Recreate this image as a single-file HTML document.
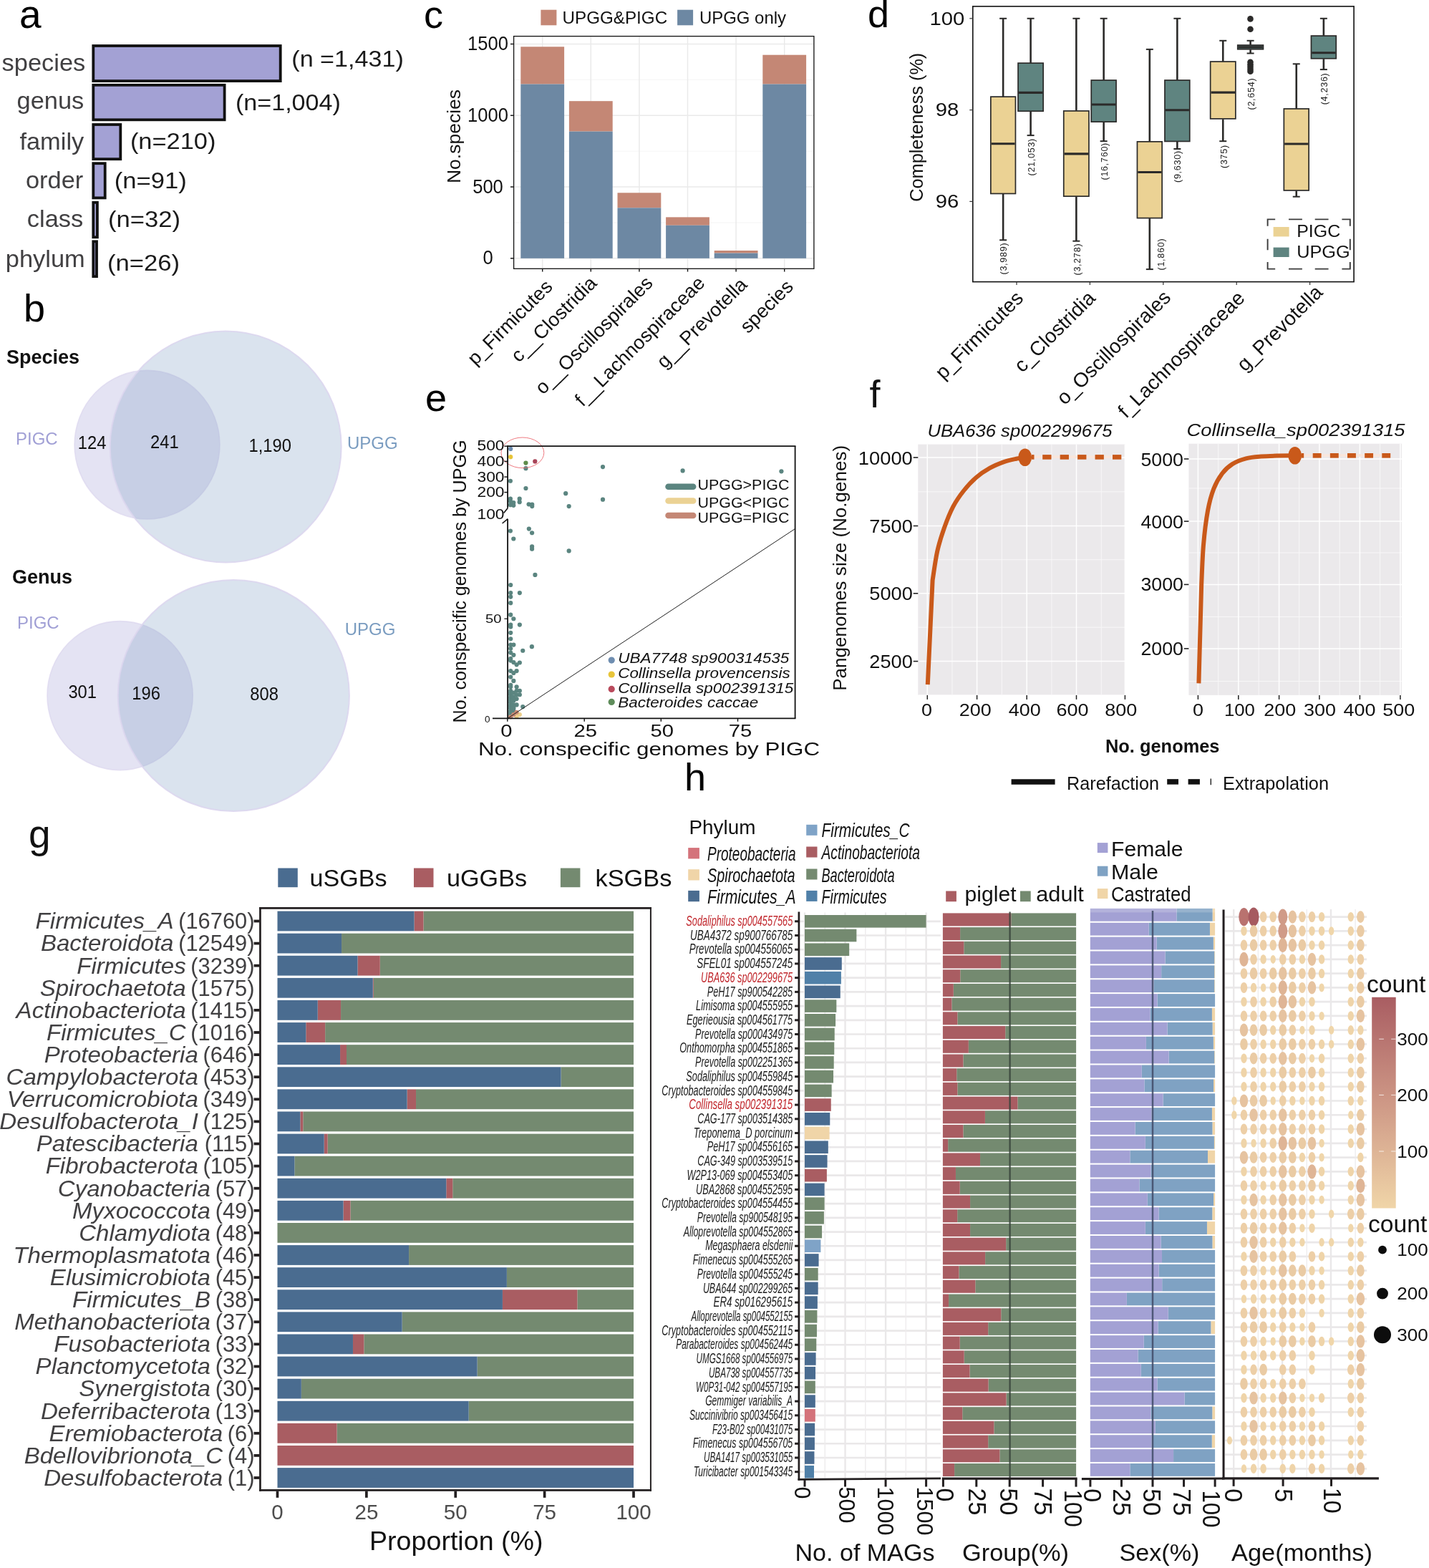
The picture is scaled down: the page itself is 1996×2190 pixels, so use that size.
<!DOCTYPE html>
<html lang="en"><head><meta charset="utf-8"><title>Figure</title>
<style>
html,body{margin:0;padding:0;background:#fff;}
body{width:1996px;height:2190px;overflow:hidden;}
svg{display:block;}
text{font-family:"Liberation Sans", sans-serif;}
</style></head><body>
<svg width="1996" height="2190" viewBox="0 0 1996 2190">
<rect width="1996" height="2190" fill="#fff"/>
<g id="pa">
<text transform="translate(27,38.8)" font-size="55">a</text>
<rect x="130.3" y="64" width="261.4" height="49.1" fill="#A3A1D4" stroke="#111" stroke-width="3.8"/>
<text transform="translate(119.3,99.2) scale(1.06,1)" font-size="32.5" text-anchor="end" fill="#414042">species</text>
<text transform="translate(407.3,93.1)" font-size="32" fill="#1a1a1a" textLength="156.5" lengthAdjust="spacingAndGlyphs">(n =1,431)</text>
<rect x="130.3" y="118.8" width="183.3" height="48.5" fill="#A3A1D4" stroke="#111" stroke-width="3.8"/>
<text transform="translate(117.3,152.4) scale(1.06,1)" font-size="32.5" text-anchor="end" fill="#414042">genus</text>
<text transform="translate(328.9,153.5)" font-size="32" fill="#1a1a1a" textLength="147" lengthAdjust="spacingAndGlyphs">(n=1,004)</text>
<rect x="130.3" y="174" width="38" height="48.2" fill="#A3A1D4" stroke="#111" stroke-width="3.8"/>
<text transform="translate(117.3,208.6) scale(1.06,1)" font-size="32.5" text-anchor="end" fill="#414042">family</text>
<text transform="translate(181.9,208)" font-size="32" fill="#1a1a1a" textLength="119.5" lengthAdjust="spacingAndGlyphs">(n=210)</text>
<rect x="130.3" y="228.2" width="16.4" height="48.2" fill="#A3A1D4" stroke="#111" stroke-width="3.8"/>
<text transform="translate(116.3,263.2) scale(1.06,1)" font-size="32.5" text-anchor="end" fill="#414042">order</text>
<text transform="translate(159.7,262.9)" font-size="32" fill="#1a1a1a" textLength="101" lengthAdjust="spacingAndGlyphs">(n=91)</text>
<rect x="130.3" y="282.8" width="5.6" height="48.5" fill="#A3A1D4" stroke="#111" stroke-width="3.8"/>
<text transform="translate(116.3,317.4) scale(1.06,1)" font-size="32.5" text-anchor="end" fill="#414042">class</text>
<text transform="translate(150.9,316.8)" font-size="32" fill="#1a1a1a" textLength="101" lengthAdjust="spacingAndGlyphs">(n=32)</text>
<rect x="130.3" y="337.3" width="4.7" height="48.8" fill="#A3A1D4" stroke="#111" stroke-width="3.8"/>
<text transform="translate(118.8,372.6) scale(1.06,1)" font-size="32.5" text-anchor="end" fill="#414042">phylum</text>
<text transform="translate(149.9,378.2)" font-size="32" fill="#1a1a1a" textLength="101" lengthAdjust="spacingAndGlyphs">(n=26)</text>
</g>
<g id="pb">
<text transform="translate(33,448.6)" font-size="54">b</text>
<ellipse cx="205.5" cy="621.2" rx="101.4" ry="103.8" fill="#A6A3D6" fill-opacity="0.3" stroke="#DCD6EE" stroke-opacity="0.7" stroke-width="1.6"/>
<circle cx="315.2" cy="624" r="161.5" fill="#84A2C6" fill-opacity="0.3" stroke="#DCD6EE" stroke-opacity="0.9" stroke-width="2"/>
<text transform="translate(9,508)" font-size="27" fill="#111" font-weight="bold">Species</text>
<text transform="translate(22,621)" font-size="24" fill="#A09FD5">PIGC</text>
<text transform="translate(485,627.2)" font-size="24" fill="#7A9CC0">UPGG</text>
<text transform="translate(128.6,627.2) scale(0.95,1)" font-size="25" text-anchor="middle" fill="#111">124</text>
<text transform="translate(229.8,625.6) scale(0.95,1)" font-size="25" text-anchor="middle" fill="#111">241</text>
<text transform="translate(377.2,630.8) scale(0.95,1)" font-size="25" text-anchor="middle" fill="#111">1,190</text>
<ellipse cx="167.6" cy="971.6" rx="101.6" ry="104" fill="#A6A3D6" fill-opacity="0.3" stroke="#DCD6EE" stroke-opacity="0.7" stroke-width="1.6"/>
<circle cx="326.3" cy="971.5" r="161.6" fill="#84A2C6" fill-opacity="0.3" stroke="#DCD6EE" stroke-opacity="0.9" stroke-width="2"/>
<text transform="translate(17,814.9)" font-size="27" fill="#111" font-weight="bold">Genus</text>
<text transform="translate(24,877.6)" font-size="24" fill="#A09FD5">PIGC</text>
<text transform="translate(481.7,887.4)" font-size="24" fill="#7A9CC0">UPGG</text>
<text transform="translate(115.2,974.9) scale(0.95,1)" font-size="25" text-anchor="middle" fill="#111">301</text>
<text transform="translate(204.1,976.9) scale(0.95,1)" font-size="25" text-anchor="middle" fill="#111">196</text>
<text transform="translate(369.1,977.9) scale(0.95,1)" font-size="25" text-anchor="middle" fill="#111">808</text>
</g>
<g id="pc">
<text transform="translate(592,39.2)" font-size="54">c</text>
<rect x="755.4" y="13.7" width="22" height="21.6" fill="#C48775"/>
<text transform="translate(785.6,32.7)" font-size="24" fill="#111" textLength="146.5" lengthAdjust="spacingAndGlyphs">UPGG&amp;PIGC</text>
<rect x="946.1" y="13.7" width="22" height="21.6" fill="#6D88A3"/>
<text transform="translate(977,32.7)" font-size="24" fill="#111" textLength="121" lengthAdjust="spacingAndGlyphs">UPGG only</text>
<line x1="717.6" y1="310.92" x2="1136.9" y2="310.92" stroke="#F0F0F0" stroke-width="0.7"/>
<line x1="717.6" y1="211.15" x2="1136.9" y2="211.15" stroke="#F0F0F0" stroke-width="0.7"/>
<line x1="717.6" y1="111.39" x2="1136.9" y2="111.39" stroke="#F0F0F0" stroke-width="0.7"/>
<line x1="717.6" y1="360.8" x2="1136.9" y2="360.8" stroke="#EAEAEA" stroke-width="1.5"/>
<line x1="717.6" y1="261.04" x2="1136.9" y2="261.04" stroke="#EAEAEA" stroke-width="1.5"/>
<line x1="717.6" y1="161.27" x2="1136.9" y2="161.27" stroke="#EAEAEA" stroke-width="1.5"/>
<line x1="717.6" y1="61.5" x2="1136.9" y2="61.5" stroke="#EAEAEA" stroke-width="1.5"/>
<line x1="757.7" y1="50.6" x2="757.7" y2="375.3" stroke="#EAEAEA" stroke-width="1.5"/>
<line x1="825.3" y1="50.6" x2="825.3" y2="375.3" stroke="#EAEAEA" stroke-width="1.5"/>
<line x1="892.9" y1="50.6" x2="892.9" y2="375.3" stroke="#EAEAEA" stroke-width="1.5"/>
<line x1="960.5" y1="50.6" x2="960.5" y2="375.3" stroke="#EAEAEA" stroke-width="1.5"/>
<line x1="1028.1" y1="50.6" x2="1028.1" y2="375.3" stroke="#EAEAEA" stroke-width="1.5"/>
<line x1="1095.7" y1="50.6" x2="1095.7" y2="375.3" stroke="#EAEAEA" stroke-width="1.5"/>
<rect x="727.3" y="65.29" width="60.8" height="52.25" fill="#C48775"/>
<rect x="727.3" y="117.55" width="60.8" height="243.25" fill="#6D88A3"/>
<rect x="794.9" y="141.17" width="60.8" height="42.44" fill="#C48775"/>
<rect x="794.9" y="183.62" width="60.8" height="177.18" fill="#6D88A3"/>
<rect x="862.5" y="269.3" width="60.8" height="21.02" fill="#C48775"/>
<rect x="862.5" y="290.33" width="60.8" height="70.47" fill="#6D88A3"/>
<rect x="930.1" y="303.34" width="60.8" height="11.41" fill="#C48775"/>
<rect x="930.1" y="314.75" width="60.8" height="46.05" fill="#6D88A3"/>
<rect x="997.7" y="349.99" width="60.8" height="3.6" fill="#C48775"/>
<rect x="997.7" y="353.59" width="60.8" height="7.21" fill="#6D88A3"/>
<rect x="1065.3" y="76.7" width="60.8" height="40.84" fill="#C48775"/>
<rect x="1065.3" y="117.55" width="60.8" height="243.25" fill="#6D88A3"/>
<rect x="717.6" y="50.6" width="419.3" height="324.7" fill="none" stroke="#111" stroke-width="1.3"/>
<line x1="713" y1="360.8" x2="717.6" y2="360.8" stroke="#1a1a1a" stroke-width="1.5"/>
<text transform="translate(681.5,369.3) scale(0.93,1)" font-size="27.5" text-anchor="middle" fill="#111">0</text>
<line x1="713" y1="261.04" x2="717.6" y2="261.04" stroke="#1a1a1a" stroke-width="1.5"/>
<text transform="translate(681.5,269.54) scale(0.93,1)" font-size="27.5" text-anchor="middle" fill="#111">500</text>
<line x1="713" y1="161.27" x2="717.6" y2="161.27" stroke="#1a1a1a" stroke-width="1.5"/>
<text transform="translate(681.5,169.77) scale(0.93,1)" font-size="27.5" text-anchor="middle" fill="#111">1000</text>
<line x1="713" y1="61.5" x2="717.6" y2="61.5" stroke="#1a1a1a" stroke-width="1.5"/>
<text transform="translate(681.5,70) scale(0.93,1)" font-size="27.5" text-anchor="middle" fill="#111">1500</text>
<line x1="757.7" y1="375.3" x2="757.7" y2="379.5" stroke="#1a1a1a" stroke-width="1.5"/>
<line x1="825.3" y1="375.3" x2="825.3" y2="379.5" stroke="#1a1a1a" stroke-width="1.5"/>
<line x1="892.9" y1="375.3" x2="892.9" y2="379.5" stroke="#1a1a1a" stroke-width="1.5"/>
<line x1="960.5" y1="375.3" x2="960.5" y2="379.5" stroke="#1a1a1a" stroke-width="1.5"/>
<line x1="1028.1" y1="375.3" x2="1028.1" y2="379.5" stroke="#1a1a1a" stroke-width="1.5"/>
<line x1="1095.7" y1="375.3" x2="1095.7" y2="379.5" stroke="#1a1a1a" stroke-width="1.5"/>
<text transform="translate(642.5,190.5) rotate(-90)" font-size="26" text-anchor="middle" fill="#111" textLength="131" lengthAdjust="spacingAndGlyphs">No.species</text>
<text transform="translate(773.2,402) rotate(-45)" font-size="27" text-anchor="end" fill="#111">p_Firmicutes</text>
<text transform="translate(835.1,397) rotate(-45)" font-size="27" text-anchor="end" fill="#111">c__Clostridia</text>
<text transform="translate(913.4,397) rotate(-45)" font-size="27" text-anchor="end" fill="#111">o__Oscillospirales</text>
<text transform="translate(986,397) rotate(-45)" font-size="27" text-anchor="end" fill="#111">f__Lachnospiraceae</text>
<text transform="translate(1045.1,399) rotate(-45)" font-size="27" text-anchor="end" fill="#111">g__Prevotella</text>
<text transform="translate(1109.5,402) rotate(-45)" font-size="27" text-anchor="end" fill="#111">species</text>
</g>
<g id="pd">
<text transform="translate(1212,38.2)" font-size="54">d</text>
<rect x="1358.8" y="8.9" width="532.3" height="384.7" fill="none" stroke="#111" stroke-width="1.6"/>
<line x1="1354.3" y1="25.8" x2="1358.8" y2="25.8" stroke="#333" stroke-width="1.2"/>
<text transform="translate(1323,34.6) scale(1.17,1)" font-size="25" text-anchor="middle" fill="#111">100</text>
<line x1="1354.3" y1="153.6" x2="1358.8" y2="153.6" stroke="#333" stroke-width="1.2"/>
<text transform="translate(1323,162.4) scale(1.17,1)" font-size="25" text-anchor="middle" fill="#111">98</text>
<line x1="1354.3" y1="281.4" x2="1358.8" y2="281.4" stroke="#333" stroke-width="1.2"/>
<text transform="translate(1323,290.2) scale(1.17,1)" font-size="25" text-anchor="middle" fill="#111">96</text>
<line x1="1420" y1="393.6" x2="1420" y2="398.1" stroke="#333" stroke-width="1.2"/>
<line x1="1522.4" y1="393.6" x2="1522.4" y2="398.1" stroke="#333" stroke-width="1.2"/>
<line x1="1624.8" y1="393.6" x2="1624.8" y2="398.1" stroke="#333" stroke-width="1.2"/>
<line x1="1727.2" y1="393.6" x2="1727.2" y2="398.1" stroke="#333" stroke-width="1.2"/>
<line x1="1829.6" y1="393.6" x2="1829.6" y2="398.1" stroke="#333" stroke-width="1.2"/>
<text transform="translate(1288.5,177.7) rotate(-90)" font-size="25" text-anchor="middle" fill="#111" textLength="208" lengthAdjust="spacingAndGlyphs">Completeness (%)</text>
<line x1="1401.15" y1="25.8" x2="1401.15" y2="134.9" stroke="#2B2A29" stroke-width="2.6"/>
<line x1="1401.15" y1="271" x2="1401.15" y2="335.3" stroke="#2B2A29" stroke-width="2.6"/>
<line x1="1396.15" y1="25.8" x2="1406.15" y2="25.8" stroke="#2B2A29" stroke-width="2"/>
<line x1="1396.15" y1="335.3" x2="1406.15" y2="335.3" stroke="#2B2A29" stroke-width="2"/>
<rect x="1383.85" y="135.15" width="34.6" height="135.3" fill="#EBD294" stroke="#2B2A29" stroke-width="1.7"/>
<line x1="1384.7" y1="200.8" x2="1417.6" y2="200.8" stroke="#2B2A29" stroke-width="3.1"/>
<line x1="1439.6" y1="25.8" x2="1439.6" y2="87.9" stroke="#2B2A29" stroke-width="2.6"/>
<line x1="1439.6" y1="155.8" x2="1439.6" y2="189.1" stroke="#2B2A29" stroke-width="2.6"/>
<line x1="1434.6" y1="25.8" x2="1444.6" y2="25.8" stroke="#2B2A29" stroke-width="2"/>
<line x1="1434.6" y1="189.1" x2="1444.6" y2="189.1" stroke="#2B2A29" stroke-width="2"/>
<rect x="1422.05" y="88.15" width="35.1" height="67.1" fill="#5F8480" stroke="#2B2A29" stroke-width="1.7"/>
<line x1="1422.9" y1="129.4" x2="1456.3" y2="129.4" stroke="#2B2A29" stroke-width="3.1"/>
<line x1="1503.35" y1="25.8" x2="1503.35" y2="154.7" stroke="#2B2A29" stroke-width="2.6"/>
<line x1="1503.35" y1="274.7" x2="1503.35" y2="336.7" stroke="#2B2A29" stroke-width="2.6"/>
<line x1="1498.35" y1="25.8" x2="1508.35" y2="25.8" stroke="#2B2A29" stroke-width="2"/>
<line x1="1498.35" y1="336.7" x2="1508.35" y2="336.7" stroke="#2B2A29" stroke-width="2"/>
<rect x="1485.75" y="154.95" width="35.2" height="119.2" fill="#EBD294" stroke="#2B2A29" stroke-width="1.7"/>
<line x1="1486.6" y1="214.9" x2="1520.1" y2="214.9" stroke="#2B2A29" stroke-width="3.1"/>
<line x1="1541.65" y1="25.8" x2="1541.65" y2="111.8" stroke="#2B2A29" stroke-width="2.6"/>
<line x1="1541.65" y1="170.7" x2="1541.65" y2="197.2" stroke="#2B2A29" stroke-width="2.6"/>
<line x1="1536.65" y1="25.8" x2="1546.65" y2="25.8" stroke="#2B2A29" stroke-width="2"/>
<line x1="1536.65" y1="197.2" x2="1546.65" y2="197.2" stroke="#2B2A29" stroke-width="2"/>
<rect x="1524.25" y="112.05" width="34.8" height="58.1" fill="#5F8480" stroke="#2B2A29" stroke-width="1.7"/>
<line x1="1525.1" y1="146" x2="1558.2" y2="146" stroke="#2B2A29" stroke-width="3.1"/>
<line x1="1605.8" y1="68.9" x2="1605.8" y2="197.6" stroke="#2B2A29" stroke-width="2.6"/>
<line x1="1605.8" y1="305.1" x2="1605.8" y2="376.1" stroke="#2B2A29" stroke-width="2.6"/>
<line x1="1600.8" y1="68.9" x2="1610.8" y2="68.9" stroke="#2B2A29" stroke-width="2"/>
<line x1="1600.8" y1="376.1" x2="1610.8" y2="376.1" stroke="#2B2A29" stroke-width="2"/>
<rect x="1588.45" y="197.85" width="34.7" height="106.7" fill="#EBD294" stroke="#2B2A29" stroke-width="1.7"/>
<line x1="1589.3" y1="240.5" x2="1622.3" y2="240.5" stroke="#2B2A29" stroke-width="3.1"/>
<line x1="1644.35" y1="25.8" x2="1644.35" y2="111.8" stroke="#2B2A29" stroke-width="2.6"/>
<line x1="1644.35" y1="198" x2="1644.35" y2="208" stroke="#2B2A29" stroke-width="2.6"/>
<line x1="1639.35" y1="25.8" x2="1649.35" y2="25.8" stroke="#2B2A29" stroke-width="2"/>
<line x1="1639.35" y1="208" x2="1649.35" y2="208" stroke="#2B2A29" stroke-width="2"/>
<rect x="1626.95" y="112.05" width="34.8" height="85.4" fill="#5F8480" stroke="#2B2A29" stroke-width="1.7"/>
<line x1="1627.8" y1="153.8" x2="1660.9" y2="153.8" stroke="#2B2A29" stroke-width="3.1"/>
<line x1="1708.25" y1="56.8" x2="1708.25" y2="85.8" stroke="#2B2A29" stroke-width="2.6"/>
<line x1="1708.25" y1="166.4" x2="1708.25" y2="197.2" stroke="#2B2A29" stroke-width="2.6"/>
<line x1="1703.25" y1="56.8" x2="1713.25" y2="56.8" stroke="#2B2A29" stroke-width="2"/>
<line x1="1703.25" y1="197.2" x2="1713.25" y2="197.2" stroke="#2B2A29" stroke-width="2"/>
<rect x="1690.65" y="86.05" width="35.2" height="79.8" fill="#EBD294" stroke="#2B2A29" stroke-width="1.7"/>
<line x1="1691.5" y1="129.1" x2="1725" y2="129.1" stroke="#2B2A29" stroke-width="3.1"/>
<line x1="1746.6" y1="56.8" x2="1746.6" y2="62.8" stroke="#2B2A29" stroke-width="2.6"/>
<line x1="1746.6" y1="69.3" x2="1746.6" y2="74.5" stroke="#2B2A29" stroke-width="2.6"/>
<line x1="1741.6" y1="56.8" x2="1751.6" y2="56.8" stroke="#2B2A29" stroke-width="2"/>
<line x1="1741.6" y1="74.5" x2="1751.6" y2="74.5" stroke="#2B2A29" stroke-width="2"/>
<rect x="1728.75" y="63.05" width="35.7" height="5.7" fill="#5F8480" stroke="#2B2A29" stroke-width="1.7"/>
<line x1="1729.6" y1="65.9" x2="1763.6" y2="65.9" stroke="#2B2A29" stroke-width="3.1"/>
<line x1="1810.75" y1="89.3" x2="1810.75" y2="151.7" stroke="#2B2A29" stroke-width="2.6"/>
<line x1="1810.75" y1="266.5" x2="1810.75" y2="274.7" stroke="#2B2A29" stroke-width="2.6"/>
<line x1="1805.75" y1="89.3" x2="1815.75" y2="89.3" stroke="#2B2A29" stroke-width="2"/>
<line x1="1805.75" y1="274.7" x2="1815.75" y2="274.7" stroke="#2B2A29" stroke-width="2"/>
<rect x="1793.35" y="151.95" width="34.8" height="114" fill="#EBD294" stroke="#2B2A29" stroke-width="1.7"/>
<line x1="1794.2" y1="201" x2="1827.3" y2="201" stroke="#2B2A29" stroke-width="3.1"/>
<line x1="1848.85" y1="25.8" x2="1848.85" y2="49.8" stroke="#2B2A29" stroke-width="2.6"/>
<line x1="1848.85" y1="82.3" x2="1848.85" y2="97.1" stroke="#2B2A29" stroke-width="2.6"/>
<line x1="1843.85" y1="25.8" x2="1853.85" y2="25.8" stroke="#2B2A29" stroke-width="2"/>
<line x1="1843.85" y1="97.1" x2="1853.85" y2="97.1" stroke="#2B2A29" stroke-width="2"/>
<rect x="1831.45" y="50.05" width="34.8" height="31.7" fill="#5F8480" stroke="#2B2A29" stroke-width="1.7"/>
<line x1="1832.3" y1="73.7" x2="1865.4" y2="73.7" stroke="#2B2A29" stroke-width="3.1"/>
<circle cx="1746.5" cy="26.4" r="4.3" fill="#2B2A29" />
<circle cx="1746.5" cy="40.7" r="4.3" fill="#2B2A29" />
<circle cx="1746.5" cy="86.7" r="4.3" fill="#2B2A29" />
<circle cx="1746.5" cy="90.2" r="4.3" fill="#2B2A29" />
<circle cx="1746.5" cy="93.5" r="4.3" fill="#2B2A29" />
<circle cx="1746.5" cy="96.8" r="4.3" fill="#2B2A29" />
<circle cx="1746.5" cy="99.8" r="4.3" fill="#2B2A29" />
<text transform="translate(1406,383.5) rotate(-90)" font-size="12.6" fill="#222" letter-spacing="0.7">(3,989)</text>
<text transform="translate(1444.5,245.5) rotate(-90)" font-size="12.6" fill="#222" letter-spacing="0.7">(21,053)</text>
<text transform="translate(1508.5,384.5) rotate(-90)" font-size="12.6" fill="#222" letter-spacing="0.7">(3,278)</text>
<text transform="translate(1547,251.5) rotate(-90)" font-size="12.6" fill="#222" letter-spacing="0.7">(16,760)</text>
<text transform="translate(1625.5,377.5) rotate(-90)" font-size="12.6" fill="#222" letter-spacing="0.7">(1,860)</text>
<text transform="translate(1649,255) rotate(-90)" font-size="12.6" fill="#222" letter-spacing="0.7">(9,630)</text>
<text transform="translate(1713.5,235) rotate(-90)" font-size="12.6" fill="#222" letter-spacing="0.7">(375)</text>
<text transform="translate(1752,153.5) rotate(-90)" font-size="12.6" fill="#222" letter-spacing="0.7">(2,654)</text>
<text transform="translate(1853.6,146.3) rotate(-90)" font-size="12.6" fill="#222" letter-spacing="0.7">(4,236)</text>
<path d="M1769.66 306.4H1781.17 M1769.66 375.6H1781.17 M1800.02 306.4H1818.86 M1800.02 375.6H1818.86 M1836.71 306.4H1855.56 M1836.71 375.6H1855.56 M1874.41 306.4H1886.71 M1874.41 375.6H1886.71 M1770.6 305.49V315.81 M1885.8 305.49V315.81 M1770.6 333.86V349.14 M1885.8 333.86V349.14 M1770.6 366V376.51 M1885.8 366V376.51" fill="none" stroke="#3a3a3a" stroke-width="1.9"/>
<rect x="1778.6" y="317" width="22" height="13.4" fill="#EBD294"/>
<text transform="translate(1811.2,331.4)" font-size="23.5" fill="#111" textLength="61" lengthAdjust="spacingAndGlyphs">PIGC</text>
<rect x="1778.6" y="345.6" width="22" height="13.4" fill="#5F8480"/>
<text transform="translate(1811.2,360.2)" font-size="23.5" fill="#111" textLength="74.5" lengthAdjust="spacingAndGlyphs">UPGG</text>
<text transform="translate(1431,418) rotate(-45)" font-size="28" text-anchor="end" fill="#111">p_Firmicutes</text>
<text transform="translate(1531.4,418) rotate(-45)" font-size="28" text-anchor="end" fill="#111">c_Clostridia</text>
<text transform="translate(1636.8,417) rotate(-45)" font-size="28" text-anchor="end" fill="#111">o_Oscillospirales</text>
<text transform="translate(1740.2,418) rotate(-45)" font-size="28" text-anchor="end" fill="#111">f_Lachnospiraceae</text>
<text transform="translate(1849.1,410) rotate(-45)" font-size="28" text-anchor="end" fill="#111">g_Prevotella</text>
</g>
<g id="pe">
<text transform="translate(594,573.5)" font-size="54">e</text>
<circle cx="734.45" cy="654.21" r="3.1" fill="#5B8580" />
<circle cx="842" cy="652.08" r="3.1" fill="#5B8580" />
<circle cx="712.91" cy="671.74" r="3.1" fill="#5B8580" />
<circle cx="734.45" cy="682.01" r="3.1" fill="#5B8580" />
<circle cx="790.16" cy="689.14" r="3.1" fill="#5B8580" />
<circle cx="842" cy="697.66" r="3.1" fill="#5B8580" />
<circle cx="794.67" cy="707.05" r="3.1" fill="#5B8580" />
<circle cx="712.91" cy="696.66" r="3.1" fill="#5B8580" />
<circle cx="725.68" cy="696.66" r="3.1" fill="#5B8580" />
<circle cx="725.68" cy="701.16" r="3.1" fill="#5B8580" />
<circle cx="717.29" cy="702.04" r="3.1" fill="#5B8580" />
<circle cx="712.91" cy="705.17" r="3.1" fill="#5B8580" />
<circle cx="717.29" cy="705.8" r="3.1" fill="#5B8580" />
<circle cx="738.58" cy="704.29" r="3.1" fill="#5B8580" />
<circle cx="743.21" cy="704.54" r="3.1" fill="#5B8580" />
<circle cx="743.21" cy="707.05" r="3.1" fill="#5B8580" />
<circle cx="712.91" cy="700.16" r="3.1" fill="#5B8580" />
<circle cx="712.91" cy="741.48" r="3.1" fill="#5B8580" />
<circle cx="738.83" cy="738.6" r="3.1" fill="#5B8580" />
<circle cx="743.09" cy="744.23" r="3.1" fill="#5B8580" />
<circle cx="717.29" cy="752.5" r="3.1" fill="#5B8580" />
<circle cx="743.09" cy="763.39" r="3.1" fill="#5B8580" />
<circle cx="743.09" cy="766.77" r="3.1" fill="#5B8580" />
<circle cx="794.67" cy="769.4" r="3.1" fill="#5B8580" />
<circle cx="953.6" cy="657.4" r="3.1" fill="#5B8580" />
<circle cx="1091.4" cy="658.3" r="3.1" fill="#5B8580" />
<circle cx="747.4" cy="802.96" r="3.1" fill="#5B8580" />
<circle cx="713.22" cy="817.02" r="3.1" fill="#5B8580" />
<circle cx="713.22" cy="828.12" r="3.1" fill="#5B8580" />
<circle cx="725.86" cy="828.12" r="3.1" fill="#5B8580" />
<circle cx="713.22" cy="833.53" r="3.1" fill="#5B8580" />
<circle cx="713.22" cy="842.18" r="3.1" fill="#5B8580" />
<circle cx="713.22" cy="858.69" r="3.1" fill="#5B8580" />
<circle cx="717.35" cy="864.24" r="3.1" fill="#5B8580" />
<circle cx="713.22" cy="872.62" r="3.1" fill="#5B8580" />
<circle cx="713.22" cy="875.46" r="3.1" fill="#5B8580" />
<circle cx="725.86" cy="872.62" r="3.1" fill="#5B8580" />
<circle cx="713.22" cy="883.84" r="3.1" fill="#5B8580" />
<circle cx="713.22" cy="892.23" r="3.1" fill="#5B8580" />
<circle cx="713.22" cy="900.61" r="3.1" fill="#5B8580" />
<circle cx="717.35" cy="900.61" r="3.1" fill="#5B8580" />
<circle cx="742.89" cy="903.19" r="3.1" fill="#5B8580" />
<circle cx="713.22" cy="905.77" r="3.1" fill="#5B8580" />
<circle cx="730.25" cy="908.74" r="3.1" fill="#5B8580" />
<circle cx="713.22" cy="911.58" r="3.1" fill="#5B8580" />
<circle cx="717.35" cy="914.8" r="3.1" fill="#5B8580" />
<circle cx="713.22" cy="919.96" r="3.1" fill="#5B8580" />
<circle cx="713.22" cy="922.54" r="3.1" fill="#5B8580" />
<circle cx="717.35" cy="925.12" r="3.1" fill="#5B8580" />
<circle cx="721.6" cy="928.35" r="3.1" fill="#5B8580" />
<circle cx="725.86" cy="925.51" r="3.1" fill="#5B8580" />
<circle cx="713.22" cy="937.12" r="3.1" fill="#5B8580" />
<circle cx="721.6" cy="937.12" r="3.1" fill="#5B8580" />
<circle cx="717.35" cy="939.96" r="3.1" fill="#5B8580" />
<circle cx="713.22" cy="945.51" r="3.1" fill="#5B8580" />
<circle cx="717.35" cy="950.92" r="3.1" fill="#5B8580" />
<circle cx="713.22" cy="956.73" r="3.1" fill="#5B8580" />
<circle cx="713.22" cy="959.31" r="3.1" fill="#5B8580" />
<circle cx="721.6" cy="959.31" r="3.1" fill="#5B8580" />
<circle cx="713.22" cy="964.73" r="3.1" fill="#5B8580" />
<circle cx="721.6" cy="964.73" r="3.1" fill="#5B8580" />
<circle cx="725.86" cy="964.73" r="3.1" fill="#5B8580" />
<circle cx="725.86" cy="970.27" r="3.1" fill="#5B8580" />
<circle cx="721.6" cy="970.27" r="3.1" fill="#5B8580" />
<circle cx="713.22" cy="970.27" r="3.1" fill="#5B8580" />
<circle cx="717.35" cy="973.5" r="3.1" fill="#5B8580" />
<circle cx="721.6" cy="976.08" r="3.1" fill="#5B8580" />
<circle cx="713.22" cy="976.08" r="3.1" fill="#5B8580" />
<circle cx="717.35" cy="978.66" r="3.1" fill="#5B8580" />
<circle cx="713.22" cy="981.24" r="3.1" fill="#5B8580" />
<circle cx="717.35" cy="984.46" r="3.1" fill="#5B8580" />
<circle cx="721.6" cy="984.46" r="3.1" fill="#5B8580" />
<circle cx="713.22" cy="987.04" r="3.1" fill="#5B8580" />
<circle cx="730.25" cy="987.04" r="3.1" fill="#5B8580" />
<circle cx="717.35" cy="989.62" r="3.1" fill="#5B8580" />
<circle cx="713.22" cy="992.85" r="3.1" fill="#5B8580" />
<circle cx="717.35" cy="995.43" r="3.1" fill="#5B8580" />
<circle cx="713.22" cy="998.01" r="3.1" fill="#5B8580" />
<circle cx="713.22" cy="1000.59" r="3.1" fill="#5B8580" />
<circle cx="713.22" cy="967.69" r="3.1" fill="#5B8580" />
<circle cx="717.35" cy="967.69" r="3.1" fill="#5B8580" />
<circle cx="713.22" cy="973.5" r="3.1" fill="#5B8580" />
<circle cx="717.35" cy="976.08" r="3.1" fill="#5B8580" />
<circle cx="713.22" cy="978.66" r="3.1" fill="#5B8580" />
<circle cx="713.22" cy="984.46" r="3.1" fill="#5B8580" />
<circle cx="717.35" cy="987.04" r="3.1" fill="#5B8580" />
<circle cx="713.22" cy="989.62" r="3.1" fill="#5B8580" />
<circle cx="717.35" cy="992.85" r="3.1" fill="#5B8580" />
<circle cx="713.22" cy="995.43" r="3.1" fill="#5B8580" />
<circle cx="717.35" cy="998.01" r="3.1" fill="#5B8580" />
<circle cx="725.86" cy="998.01" r="3.1" fill="#EDD08C" />
<circle cx="721.6" cy="1000.85" r="3.1" fill="#EDD08C" />
<circle cx="721.6" cy="994.78" r="3.1" fill="#C98A73" />
<circle cx="717.35" cy="998.01" r="3.1" fill="#C98A73" />
<circle cx="713.22" cy="1001.23" r="3.1" fill="#C98A73" />
<circle cx="713.2" cy="626.9" r="3.1" fill="#6E8DB0" />
<circle cx="713.2" cy="638.2" r="3.1" fill="#E8C53A" />
<circle cx="734.4" cy="646.6" r="3.1" fill="#5E8C4A" />
<circle cx="747.3" cy="644.4" r="3.1" fill="#A84458" />
<ellipse cx="729.9" cy="632.3" rx="29.9" ry="21.3" fill="none" stroke="#EC6A72" stroke-width="0.9"/>
<line x1="709.1" y1="1003.3" x2="1110.6" y2="738.5" stroke="#222" stroke-width="1"/>
<line x1="709.1" y1="622.3" x2="709.1" y2="709.6" stroke="#111" stroke-width="1.8"/>
<line x1="709.1" y1="725" x2="709.1" y2="1004.2" stroke="#111" stroke-width="1.8"/>
<line x1="703.6" y1="716.6" x2="709.3" y2="709.4" stroke="#111" stroke-width="1.6"/>
<line x1="701.6" y1="731" x2="709.3" y2="724.6" stroke="#111" stroke-width="1.6"/>
<line x1="709.1" y1="623.2" x2="1111.5" y2="623.2" stroke="#111" stroke-width="1.8"/>
<line x1="1110.6" y1="623.2" x2="1110.6" y2="1003.3" stroke="#111" stroke-width="1.8"/>
<line x1="688" y1="1003.3" x2="1111.5" y2="1003.3" stroke="#111" stroke-width="1.8"/>
<line x1="704.4" y1="644.4" x2="709.1" y2="644.4" stroke="#111" stroke-width="1.4"/>
<line x1="704.4" y1="666.1" x2="709.1" y2="666.1" stroke="#111" stroke-width="1.4"/>
<line x1="704.4" y1="687.6" x2="709.1" y2="687.6" stroke="#111" stroke-width="1.4"/>
<line x1="704.4" y1="623.2" x2="709.1" y2="623.2" stroke="#111" stroke-width="1.4"/>
<line x1="704.4" y1="864.2" x2="709.1" y2="864.2" stroke="#111" stroke-width="1.2"/>
<text transform="translate(666.5,628.8)" font-size="19.5" fill="#111" textLength="38" lengthAdjust="spacingAndGlyphs">500</text>
<text transform="translate(666.5,650.7)" font-size="19.5" fill="#111" textLength="38" lengthAdjust="spacingAndGlyphs">400</text>
<text transform="translate(666.5,673)" font-size="19.5" fill="#111" textLength="38" lengthAdjust="spacingAndGlyphs">300</text>
<text transform="translate(666.5,694.3)" font-size="19.5" fill="#111" textLength="38" lengthAdjust="spacingAndGlyphs">200</text>
<text transform="translate(666.5,725.4)" font-size="19.5" fill="#111" textLength="38" lengthAdjust="spacingAndGlyphs">100</text>
<text transform="translate(678,869.7)" font-size="16.5" fill="#111" textLength="22.5" lengthAdjust="spacingAndGlyphs">50</text>
<text transform="translate(677,1009)" font-size="13.5" fill="#111">0</text>
<line x1="708.8" y1="1003.3" x2="708.8" y2="1007.8" stroke="#111" stroke-width="1.4"/>
<line x1="816.2" y1="1003.3" x2="816.2" y2="1007.8" stroke="#111" stroke-width="1.4"/>
<line x1="923.3" y1="1003.3" x2="923.3" y2="1007.8" stroke="#111" stroke-width="1.4"/>
<line x1="1030.5" y1="1003.3" x2="1030.5" y2="1007.8" stroke="#111" stroke-width="1.4"/>
<text transform="translate(707.5,1028.8) scale(1.25,1)" font-size="23.4" text-anchor="middle" fill="#111">0</text>
<text transform="translate(817.7,1028.8) scale(1.25,1)" font-size="23.4" text-anchor="middle" fill="#111">25</text>
<text transform="translate(924.7,1028.8) scale(1.25,1)" font-size="23.4" text-anchor="middle" fill="#111">50</text>
<text transform="translate(1034.1,1028.8) scale(1.25,1)" font-size="23.4" text-anchor="middle" fill="#111">75</text>
<text transform="translate(668,1055.4)" font-size="25.5" fill="#111" textLength="477" lengthAdjust="spacingAndGlyphs">No. conspecific genomes by PIGC</text>
<text transform="translate(650.5,812) rotate(-90)" font-size="26.5" text-anchor="middle" fill="#111" textLength="395" lengthAdjust="spacingAndGlyphs">No. conspecific genomes by UPGG</text>
<line x1="933.5" y1="679.7" x2="968.2" y2="679.7" stroke="#5B8580" stroke-width="8.5" stroke-linecap="round"/>
<text transform="translate(974.5,684.3)" font-size="20.5" fill="#111" textLength="128" lengthAdjust="spacingAndGlyphs">UPGG&gt;PIGC</text>
<line x1="933.5" y1="699.5" x2="968.2" y2="699.5" stroke="#EBD294" stroke-width="8.5" stroke-linecap="round"/>
<text transform="translate(974.5,708.7)" font-size="20.5" fill="#111" textLength="128" lengthAdjust="spacingAndGlyphs">UPGG&lt;PIGC</text>
<line x1="933.5" y1="719.9" x2="968.2" y2="719.9" stroke="#C48775" stroke-width="8.5" stroke-linecap="round"/>
<text transform="translate(974.5,730)" font-size="20.5" fill="#111" textLength="128" lengthAdjust="spacingAndGlyphs">UPGG=PIGC</text>
<circle cx="854.2" cy="922.1" r="4.6" fill="#6E8DB0" />
<text transform="translate(863.2,926)" font-size="20" fill="#111" font-style="italic" textLength="239" lengthAdjust="spacingAndGlyphs">UBA7748 sp900314535</text>
<circle cx="854.2" cy="942" r="4.6" fill="#E8C53A" />
<text transform="translate(863.2,947.2)" font-size="20" fill="#111" font-style="italic" textLength="240.5" lengthAdjust="spacingAndGlyphs">Collinsella provencensis</text>
<circle cx="854.2" cy="962.4" r="4.6" fill="#B94A5C" />
<text transform="translate(863.2,967.6)" font-size="20" fill="#111" font-style="italic" textLength="245" lengthAdjust="spacingAndGlyphs">Collinsella sp002391315</text>
<circle cx="854.2" cy="980.4" r="4.6" fill="#5E8C5A" />
<text transform="translate(863.2,988)" font-size="20" fill="#111" font-style="italic" textLength="196" lengthAdjust="spacingAndGlyphs">Bacteroides caccae</text>
</g>
<g id="pf">
<text transform="translate(1214.5,569.3)" font-size="54" fill="#111">f</text>
<text transform="translate(1181.8,793.3) rotate(-90)" font-size="26" text-anchor="middle" fill="#111" textLength="343" lengthAdjust="spacingAndGlyphs">Pangenomes size (No.genes)</text>
<rect x="1282.3" y="620.6" width="289.6" height="350.3" fill="#EBE9EB"/>
<line x1="1282.3" y1="686.8" x2="1571.9" y2="686.8" stroke="#F8F7F8" stroke-width="1"/>
<line x1="1282.3" y1="781.7" x2="1571.9" y2="781.7" stroke="#F8F7F8" stroke-width="1"/>
<line x1="1282.3" y1="876.2" x2="1571.9" y2="876.2" stroke="#F8F7F8" stroke-width="1"/>
<line x1="1282.3" y1="970.5" x2="1571.9" y2="970.5" stroke="#F8F7F8" stroke-width="1"/>
<line x1="1330" y1="620.6" x2="1330" y2="970.9" stroke="#F8F7F8" stroke-width="1"/>
<line x1="1399.4" y1="620.6" x2="1399.4" y2="970.9" stroke="#F8F7F8" stroke-width="1"/>
<line x1="1468.9" y1="620.6" x2="1468.9" y2="970.9" stroke="#F8F7F8" stroke-width="1"/>
<line x1="1538.3" y1="620.6" x2="1538.3" y2="970.9" stroke="#F8F7F8" stroke-width="1"/>
<line x1="1282.3" y1="639" x2="1571.9" y2="639" stroke="#fff" stroke-width="1.5"/>
<line x1="1282.3" y1="734.5" x2="1571.9" y2="734.5" stroke="#fff" stroke-width="1.5"/>
<line x1="1282.3" y1="828.8" x2="1571.9" y2="828.8" stroke="#fff" stroke-width="1.5"/>
<line x1="1282.3" y1="923.6" x2="1571.9" y2="923.6" stroke="#fff" stroke-width="1.5"/>
<line x1="1295.3" y1="620.6" x2="1295.3" y2="970.9" stroke="#fff" stroke-width="1.5"/>
<line x1="1364.6" y1="620.6" x2="1364.6" y2="970.9" stroke="#fff" stroke-width="1.5"/>
<line x1="1434.2" y1="620.6" x2="1434.2" y2="970.9" stroke="#fff" stroke-width="1.5"/>
<line x1="1503.5" y1="620.6" x2="1503.5" y2="970.9" stroke="#fff" stroke-width="1.5"/>
<line x1="1571.4" y1="620.6" x2="1571.4" y2="970.9" stroke="#fff" stroke-width="1.5"/>
<line x1="1275.7" y1="639" x2="1282.3" y2="639" stroke="#222" stroke-width="1.6"/>
<line x1="1275.7" y1="734.5" x2="1282.3" y2="734.5" stroke="#222" stroke-width="1.6"/>
<line x1="1275.7" y1="828.8" x2="1282.3" y2="828.8" stroke="#222" stroke-width="1.6"/>
<line x1="1275.7" y1="923.6" x2="1282.3" y2="923.6" stroke="#222" stroke-width="1.6"/>
<line x1="1295.3" y1="970.9" x2="1295.3" y2="976.9" stroke="#222" stroke-width="1.5"/>
<line x1="1364.6" y1="970.9" x2="1364.6" y2="976.9" stroke="#222" stroke-width="1.5"/>
<line x1="1434.2" y1="970.9" x2="1434.2" y2="976.9" stroke="#222" stroke-width="1.5"/>
<line x1="1503.5" y1="970.9" x2="1503.5" y2="976.9" stroke="#222" stroke-width="1.5"/>
<line x1="1571.4" y1="970.9" x2="1571.4" y2="976.9" stroke="#222" stroke-width="1.5"/>
<text transform="translate(1274.8,648.8)" font-size="25.5" text-anchor="end" fill="#111" textLength="76" lengthAdjust="spacingAndGlyphs">10000</text>
<text transform="translate(1274.8,743.8)" font-size="25.5" text-anchor="end" fill="#111" textLength="60.5" lengthAdjust="spacingAndGlyphs">7500</text>
<text transform="translate(1274.8,838.1)" font-size="25.5" text-anchor="end" fill="#111" textLength="60.5" lengthAdjust="spacingAndGlyphs">5000</text>
<text transform="translate(1274.8,933)" font-size="25.5" text-anchor="end" fill="#111" textLength="60.5" lengthAdjust="spacingAndGlyphs">2500</text>
<text transform="translate(1294.5,1000)" font-size="24.5" text-anchor="middle" fill="#111" textLength="15" lengthAdjust="spacingAndGlyphs">0</text>
<text transform="translate(1362.3,1000)" font-size="24.5" text-anchor="middle" fill="#111" textLength="45" lengthAdjust="spacingAndGlyphs">200</text>
<text transform="translate(1431.3,1000)" font-size="24.5" text-anchor="middle" fill="#111" textLength="45" lengthAdjust="spacingAndGlyphs">400</text>
<text transform="translate(1498.1,1000)" font-size="24.5" text-anchor="middle" fill="#111" textLength="45" lengthAdjust="spacingAndGlyphs">600</text>
<text transform="translate(1565.7,1000)" font-size="24.5" text-anchor="middle" fill="#111" textLength="45" lengthAdjust="spacingAndGlyphs">800</text>
<text transform="translate(1295.5,609.6)" font-size="24.8" fill="#111" font-style="italic" textLength="258" lengthAdjust="spacingAndGlyphs">UBA636 sp002299675</text>
<rect x="1441" y="636.2" width="125.5" height="3.8" fill="#F8E6DD"/>
<path d="M1295.8 956.2 L1302.6 810.5 L1302.6 810.5 C1303.7 803.75 1306.47 782.25 1309.2 770 C1311.93 757.75 1315.32 747.4 1319 737 C1322.68 726.6 1326.8 716.18 1331.3 707.6 C1335.8 699.02 1340.7 692.23 1346 685.5 C1351.3 678.77 1356.98 672.5 1363.1 667.2 C1369.22 661.9 1376.17 657.38 1382.7 653.7 C1389.23 650.02 1396.17 647.27 1402.3 645.1 C1408.43 642.93 1414.6 641.75 1419.5 640.7 C1424.4 639.65 1429.67 639.12 1431.7 638.8" fill="none" stroke="#C9591A" stroke-width="6" stroke-linejoin="round"/>
<line x1="1441" y1="638.4" x2="1444.5" y2="638.4" stroke="#C9591A" stroke-width="6.6"/>
<line x1="1456.2" y1="638.4" x2="1468.5" y2="638.4" stroke="#C9591A" stroke-width="6.6"/>
<line x1="1480.65" y1="638.4" x2="1492.95" y2="638.4" stroke="#C9591A" stroke-width="6.6"/>
<line x1="1505.1" y1="638.4" x2="1517.4" y2="638.4" stroke="#C9591A" stroke-width="6.6"/>
<line x1="1529.55" y1="638.4" x2="1541.85" y2="638.4" stroke="#C9591A" stroke-width="6.6"/>
<line x1="1554" y1="638.4" x2="1566.3" y2="638.4" stroke="#C9591A" stroke-width="6.6"/>
<ellipse cx="1431.7" cy="638.8" rx="9.4" ry="12.3" fill="#C9591A" />
<rect x="1660.4" y="619.7" width="297.6" height="351.2" fill="#EBE9EB"/>
<line x1="1660.4" y1="682" x2="1958" y2="682" stroke="#F8F7F8" stroke-width="1"/>
<line x1="1660.4" y1="772" x2="1958" y2="772" stroke="#F8F7F8" stroke-width="1"/>
<line x1="1660.4" y1="861.5" x2="1958" y2="861.5" stroke="#F8F7F8" stroke-width="1"/>
<line x1="1660.4" y1="951.5" x2="1958" y2="951.5" stroke="#F8F7F8" stroke-width="1"/>
<line x1="1701.7" y1="619.7" x2="1701.7" y2="970.9" stroke="#F8F7F8" stroke-width="1"/>
<line x1="1758.2" y1="619.7" x2="1758.2" y2="970.9" stroke="#F8F7F8" stroke-width="1"/>
<line x1="1814.7" y1="619.7" x2="1814.7" y2="970.9" stroke="#F8F7F8" stroke-width="1"/>
<line x1="1871.2" y1="619.7" x2="1871.2" y2="970.9" stroke="#F8F7F8" stroke-width="1"/>
<line x1="1927.6" y1="619.7" x2="1927.6" y2="970.9" stroke="#F8F7F8" stroke-width="1"/>
<line x1="1660.4" y1="641" x2="1958" y2="641" stroke="#fff" stroke-width="1.5"/>
<line x1="1660.4" y1="728.1" x2="1958" y2="728.1" stroke="#fff" stroke-width="1.5"/>
<line x1="1660.4" y1="816.4" x2="1958" y2="816.4" stroke="#fff" stroke-width="1.5"/>
<line x1="1660.4" y1="905.9" x2="1958" y2="905.9" stroke="#fff" stroke-width="1.5"/>
<line x1="1673.4" y1="619.7" x2="1673.4" y2="970.9" stroke="#fff" stroke-width="1.5"/>
<line x1="1729.8" y1="619.7" x2="1729.8" y2="970.9" stroke="#fff" stroke-width="1.5"/>
<line x1="1786.6" y1="619.7" x2="1786.6" y2="970.9" stroke="#fff" stroke-width="1.5"/>
<line x1="1842.9" y1="619.7" x2="1842.9" y2="970.9" stroke="#fff" stroke-width="1.5"/>
<line x1="1899.4" y1="619.7" x2="1899.4" y2="970.9" stroke="#fff" stroke-width="1.5"/>
<line x1="1955.9" y1="619.7" x2="1955.9" y2="970.9" stroke="#fff" stroke-width="1.5"/>
<line x1="1653.8" y1="641" x2="1660.4" y2="641" stroke="#222" stroke-width="1.6"/>
<line x1="1653.8" y1="728.1" x2="1660.4" y2="728.1" stroke="#222" stroke-width="1.6"/>
<line x1="1653.8" y1="816.4" x2="1660.4" y2="816.4" stroke="#222" stroke-width="1.6"/>
<line x1="1653.8" y1="905.9" x2="1660.4" y2="905.9" stroke="#222" stroke-width="1.6"/>
<line x1="1673.4" y1="970.9" x2="1673.4" y2="976.9" stroke="#222" stroke-width="1.5"/>
<line x1="1729.8" y1="970.9" x2="1729.8" y2="976.9" stroke="#222" stroke-width="1.5"/>
<line x1="1786.6" y1="970.9" x2="1786.6" y2="976.9" stroke="#222" stroke-width="1.5"/>
<line x1="1842.9" y1="970.9" x2="1842.9" y2="976.9" stroke="#222" stroke-width="1.5"/>
<line x1="1899.4" y1="970.9" x2="1899.4" y2="976.9" stroke="#222" stroke-width="1.5"/>
<line x1="1955.9" y1="970.9" x2="1955.9" y2="976.9" stroke="#222" stroke-width="1.5"/>
<text transform="translate(1652.9,651.2)" font-size="25.5" text-anchor="end" fill="#111" textLength="59.5" lengthAdjust="spacingAndGlyphs">5000</text>
<text transform="translate(1652.9,738.3)" font-size="25.5" text-anchor="end" fill="#111" textLength="59.5" lengthAdjust="spacingAndGlyphs">4000</text>
<text transform="translate(1652.9,825)" font-size="25.5" text-anchor="end" fill="#111" textLength="59.5" lengthAdjust="spacingAndGlyphs">3000</text>
<text transform="translate(1652.9,914.5)" font-size="25.5" text-anchor="end" fill="#111" textLength="59.5" lengthAdjust="spacingAndGlyphs">2000</text>
<text transform="translate(1673.4,1000)" font-size="24.5" text-anchor="middle" fill="#111" textLength="15" lengthAdjust="spacingAndGlyphs">0</text>
<text transform="translate(1731.4,1000)" font-size="24.5" text-anchor="middle" fill="#111" textLength="43" lengthAdjust="spacingAndGlyphs">100</text>
<text transform="translate(1787.8,1000)" font-size="24.5" text-anchor="middle" fill="#111" textLength="45" lengthAdjust="spacingAndGlyphs">200</text>
<text transform="translate(1843.4,1000)" font-size="24.5" text-anchor="middle" fill="#111" textLength="45" lengthAdjust="spacingAndGlyphs">300</text>
<text transform="translate(1899,1000)" font-size="24.5" text-anchor="middle" fill="#111" textLength="45" lengthAdjust="spacingAndGlyphs">400</text>
<text transform="translate(1953.8,1000)" font-size="24.5" text-anchor="middle" fill="#111" textLength="45" lengthAdjust="spacingAndGlyphs">500</text>
<text transform="translate(1657.5,609)" font-size="24.8" fill="#111" font-style="italic" textLength="305" lengthAdjust="spacingAndGlyphs">Collinsella_sp002391315</text>
<rect x="1818" y="634.1" width="124.5" height="3.8" fill="#F8E6DD"/>
<path d="M1674.4 954.3 L1678.2 815.5 L1678.2 815.5 C1678.67 806.4 1679.53 777.92 1681 760.9 C1682.47 743.88 1684.62 726.45 1687 713.4 C1689.38 700.35 1691.93 691.3 1695.3 682.6 C1698.67 673.9 1702.85 666.95 1707.2 661.2 C1711.55 655.45 1715.87 651.58 1721.4 648.1 C1726.93 644.62 1733.68 642.07 1740.4 640.3 C1747.12 638.53 1754.18 638.13 1761.7 637.5 C1769.22 636.87 1777.67 636.7 1785.5 636.5 C1793.33 636.3 1804.83 636.33 1808.7 636.3" fill="none" stroke="#C9591A" stroke-width="6" stroke-linejoin="round"/>
<line x1="1817.5" y1="636.3" x2="1821.2" y2="636.3" stroke="#C9591A" stroke-width="6.6"/>
<line x1="1833.7" y1="636.3" x2="1845.6" y2="636.3" stroke="#C9591A" stroke-width="6.6"/>
<line x1="1857.85" y1="636.3" x2="1869.75" y2="636.3" stroke="#C9591A" stroke-width="6.6"/>
<line x1="1882" y1="636.3" x2="1893.9" y2="636.3" stroke="#C9591A" stroke-width="6.6"/>
<line x1="1906.15" y1="636.3" x2="1918.05" y2="636.3" stroke="#C9591A" stroke-width="6.6"/>
<line x1="1930.3" y1="636.3" x2="1942.2" y2="636.3" stroke="#C9591A" stroke-width="6.6"/>
<ellipse cx="1808.7" cy="636.3" rx="9.4" ry="12.3" fill="#C9591A" />
<text transform="translate(1544,1051.3)" font-size="25.2" fill="#111" font-weight="bold" textLength="159.5" lengthAdjust="spacingAndGlyphs">No. genomes</text>
<line x1="1412.6" y1="1091.9" x2="1473.6" y2="1091.9" stroke="#111" stroke-width="7.5"/>
<text transform="translate(1490,1102.6)" font-size="25.5" fill="#111" textLength="129" lengthAdjust="spacingAndGlyphs">Rarefaction</text>
<line x1="1630.2" y1="1091.9" x2="1646" y2="1091.9" stroke="#111" stroke-width="7.5"/>
<line x1="1659.6" y1="1091.9" x2="1675.9" y2="1091.9" stroke="#111" stroke-width="7.5"/>
<line x1="1691.3" y1="1087.5" x2="1691.3" y2="1096.3" stroke="#111" stroke-width="1.3"/>
<text transform="translate(1708,1102.6)" font-size="25.5" fill="#111" textLength="148" lengthAdjust="spacingAndGlyphs">Extrapolation</text>
</g>
<g id="pg">
<text transform="translate(40,1183.5)" font-size="55" fill="#111">g</text>
<rect x="388.3" y="1212.5" width="27.5" height="26.7" fill="#4A6C90"/>
<text transform="translate(432.5,1237.6)" font-size="33" fill="#111" textLength="108" lengthAdjust="spacingAndGlyphs">uSGBs</text>
<rect x="578" y="1212.5" width="27.5" height="26.7" fill="#A95D62"/>
<text transform="translate(624,1237.6)" font-size="33" fill="#111" textLength="112" lengthAdjust="spacingAndGlyphs">uGGBs</text>
<rect x="782.9" y="1212.5" width="27.5" height="26.7" fill="#748A70"/>
<text transform="translate(831.5,1237.6)" font-size="33" fill="#111" textLength="107" lengthAdjust="spacingAndGlyphs">kSGBs</text>
<rect x="591.48" y="1272.6" width="293.52" height="27.8" fill="#748A70"/>
<rect x="578.54" y="1272.6" width="12.94" height="27.8" fill="#A95D62"/>
<rect x="387.5" y="1272.6" width="191.04" height="27.8" fill="#4A6C90"/>
<line x1="354.6" y1="1286.5" x2="362.5" y2="1286.5" stroke="#231F20" stroke-width="3.8"/>
<text transform="translate(355.5,1297.3) scale(0.98,1)" font-size="31.5" text-anchor="end" fill="#414042">(16760)</text>
<text transform="translate(242.52,1297.3) scale(1.05,1)" font-size="31.5" text-anchor="end" fill="#414042" font-style="italic">Firmicutes_A</text>
<rect x="477.05" y="1303.7" width="407.95" height="27.8" fill="#748A70"/>
<rect x="387.5" y="1303.7" width="89.55" height="27.8" fill="#4A6C90"/>
<line x1="354.6" y1="1317.6" x2="362.5" y2="1317.6" stroke="#231F20" stroke-width="3.8"/>
<text transform="translate(355.5,1328.4) scale(0.98,1)" font-size="31.5" text-anchor="end" fill="#414042">(12549)</text>
<text transform="translate(242.52,1328.4) scale(1.05,1)" font-size="31.5" text-anchor="end" fill="#414042" font-style="italic">Bacteroidota</text>
<rect x="530.78" y="1334.8" width="354.22" height="27.8" fill="#748A70"/>
<rect x="499.44" y="1334.8" width="31.34" height="27.8" fill="#A95D62"/>
<rect x="387.5" y="1334.8" width="111.94" height="27.8" fill="#4A6C90"/>
<line x1="354.6" y1="1348.7" x2="362.5" y2="1348.7" stroke="#231F20" stroke-width="3.8"/>
<text transform="translate(355.5,1359.5) scale(0.98,1)" font-size="31.5" text-anchor="end" fill="#414042">(3239)</text>
<text transform="translate(259.69,1359.5) scale(1.05,1)" font-size="31.5" text-anchor="end" fill="#414042" font-style="italic">Firmicutes</text>
<rect x="521.83" y="1365.9" width="363.17" height="27.8" fill="#748A70"/>
<rect x="520.83" y="1365.9" width="0.99" height="27.8" fill="#A95D62"/>
<rect x="387.5" y="1365.9" width="133.33" height="27.8" fill="#4A6C90"/>
<text transform="translate(355.5,1390.6) scale(0.98,1)" font-size="31.5" text-anchor="end" fill="#414042">(1575)</text>
<text transform="translate(259.69,1390.6) scale(1.05,1)" font-size="31.5" text-anchor="end" fill="#414042" font-style="italic">Spirochaetota</text>
<rect x="476.06" y="1397" width="408.94" height="27.8" fill="#748A70"/>
<rect x="443.72" y="1397" width="32.34" height="27.8" fill="#A95D62"/>
<rect x="387.5" y="1397" width="56.22" height="27.8" fill="#4A6C90"/>
<line x1="354.6" y1="1410.9" x2="362.5" y2="1410.9" stroke="#231F20" stroke-width="3.8"/>
<text transform="translate(355.5,1421.7) scale(0.98,1)" font-size="31.5" text-anchor="end" fill="#414042">(1415)</text>
<text transform="translate(259.69,1421.7) scale(1.05,1)" font-size="31.5" text-anchor="end" fill="#414042" font-style="italic">Actinobacteriota</text>
<rect x="454.16" y="1428.1" width="430.83" height="27.8" fill="#748A70"/>
<rect x="427.3" y="1428.1" width="26.86" height="27.8" fill="#A95D62"/>
<rect x="387.5" y="1428.1" width="39.8" height="27.8" fill="#4A6C90"/>
<line x1="354.6" y1="1442" x2="362.5" y2="1442" stroke="#231F20" stroke-width="3.8"/>
<text transform="translate(355.5,1452.8) scale(0.98,1)" font-size="31.5" text-anchor="end" fill="#414042">(1016)</text>
<text transform="translate(259.69,1452.8) scale(1.05,1)" font-size="31.5" text-anchor="end" fill="#414042" font-style="italic">Firmicutes_C</text>
<rect x="484.01" y="1459.2" width="400.98" height="27.8" fill="#748A70"/>
<rect x="475.06" y="1459.2" width="8.95" height="27.8" fill="#A95D62"/>
<rect x="387.5" y="1459.2" width="87.56" height="27.8" fill="#4A6C90"/>
<line x1="354.6" y1="1473.1" x2="362.5" y2="1473.1" stroke="#231F20" stroke-width="3.8"/>
<text transform="translate(355.5,1483.9) scale(0.98,1)" font-size="31.5" text-anchor="end" fill="#414042">(646)</text>
<text transform="translate(276.85,1483.9) scale(1.05,1)" font-size="31.5" text-anchor="end" fill="#414042" font-style="italic">Proteobacteria</text>
<rect x="783.51" y="1490.3" width="101.49" height="27.8" fill="#748A70"/>
<rect x="387.5" y="1490.3" width="396.01" height="27.8" fill="#4A6C90"/>
<line x1="354.6" y1="1504.2" x2="362.5" y2="1504.2" stroke="#231F20" stroke-width="3.8"/>
<text transform="translate(355.5,1515) scale(0.98,1)" font-size="31.5" text-anchor="end" fill="#414042">(453)</text>
<text transform="translate(276.85,1515) scale(1.05,1)" font-size="31.5" text-anchor="end" fill="#414042" font-style="italic">Campylobacterota</text>
<rect x="581.03" y="1521.4" width="303.97" height="27.8" fill="#748A70"/>
<rect x="568.59" y="1521.4" width="12.44" height="27.8" fill="#A95D62"/>
<rect x="387.5" y="1521.4" width="181.09" height="27.8" fill="#4A6C90"/>
<line x1="354.6" y1="1535.3" x2="362.5" y2="1535.3" stroke="#231F20" stroke-width="3.8"/>
<text transform="translate(355.5,1546.1) scale(0.98,1)" font-size="31.5" text-anchor="end" fill="#414042">(349)</text>
<text transform="translate(276.85,1546.1) scale(1.05,1)" font-size="31.5" text-anchor="end" fill="#414042" font-style="italic">Verrucomicrobiota</text>
<rect x="423.32" y="1552.5" width="461.68" height="27.8" fill="#748A70"/>
<rect x="419.34" y="1552.5" width="3.98" height="27.8" fill="#A95D62"/>
<rect x="387.5" y="1552.5" width="31.84" height="27.8" fill="#4A6C90"/>
<line x1="354.6" y1="1566.4" x2="362.5" y2="1566.4" stroke="#231F20" stroke-width="3.8"/>
<text transform="translate(355.5,1577.2) scale(0.98,1)" font-size="31.5" text-anchor="end" fill="#414042">(125)</text>
<text transform="translate(276.85,1577.2) scale(1.05,1)" font-size="31.5" text-anchor="end" fill="#414042" font-style="italic">Desulfobacterota_I</text>
<rect x="457.65" y="1583.6" width="427.35" height="27.8" fill="#748A70"/>
<rect x="452.67" y="1583.6" width="4.97" height="27.8" fill="#A95D62"/>
<rect x="387.5" y="1583.6" width="65.17" height="27.8" fill="#4A6C90"/>
<line x1="354.6" y1="1597.5" x2="362.5" y2="1597.5" stroke="#231F20" stroke-width="3.8"/>
<text transform="translate(355.5,1608.3) scale(0.98,1)" font-size="31.5" text-anchor="end" fill="#414042">(115)</text>
<text transform="translate(276.85,1608.3) scale(1.05,1)" font-size="31.5" text-anchor="end" fill="#414042" font-style="italic">Patescibacteria</text>
<rect x="411.38" y="1614.7" width="473.62" height="27.8" fill="#748A70"/>
<rect x="387.5" y="1614.7" width="23.88" height="27.8" fill="#4A6C90"/>
<line x1="354.6" y1="1628.6" x2="362.5" y2="1628.6" stroke="#231F20" stroke-width="3.8"/>
<text transform="translate(355.5,1639.4) scale(0.98,1)" font-size="31.5" text-anchor="end" fill="#414042">(105)</text>
<text transform="translate(276.85,1639.4) scale(1.05,1)" font-size="31.5" text-anchor="end" fill="#414042" font-style="italic">Fibrobacterota</text>
<rect x="632.27" y="1645.8" width="252.73" height="27.8" fill="#748A70"/>
<rect x="623.31" y="1645.8" width="8.96" height="27.8" fill="#A95D62"/>
<rect x="387.5" y="1645.8" width="235.81" height="27.8" fill="#4A6C90"/>
<line x1="354.6" y1="1659.7" x2="362.5" y2="1659.7" stroke="#231F20" stroke-width="3.8"/>
<text transform="translate(355.5,1670.5) scale(0.98,1)" font-size="31.5" text-anchor="end" fill="#414042">(57)</text>
<text transform="translate(294.01,1670.5) scale(1.05,1)" font-size="31.5" text-anchor="end" fill="#414042" font-style="italic">Cyanobacteria</text>
<rect x="489.49" y="1676.9" width="395.51" height="27.8" fill="#748A70"/>
<rect x="479.54" y="1676.9" width="9.95" height="27.8" fill="#A95D62"/>
<rect x="387.5" y="1676.9" width="92.04" height="27.8" fill="#4A6C90"/>
<line x1="354.6" y1="1690.8" x2="362.5" y2="1690.8" stroke="#231F20" stroke-width="3.8"/>
<text transform="translate(355.5,1701.6) scale(0.98,1)" font-size="31.5" text-anchor="end" fill="#414042">(49)</text>
<text transform="translate(294.01,1701.6) scale(1.05,1)" font-size="31.5" text-anchor="end" fill="#414042" font-style="italic">Myxococcota</text>
<rect x="387.5" y="1708" width="497.5" height="27.8" fill="#748A70"/>
<line x1="354.6" y1="1721.9" x2="362.5" y2="1721.9" stroke="#231F20" stroke-width="3.8"/>
<text transform="translate(355.5,1732.7) scale(0.98,1)" font-size="31.5" text-anchor="end" fill="#414042">(48)</text>
<text transform="translate(294.01,1732.7) scale(1.05,1)" font-size="31.5" text-anchor="end" fill="#414042" font-style="italic">Chlamydiota</text>
<rect x="571.08" y="1739.1" width="313.92" height="27.8" fill="#748A70"/>
<rect x="387.5" y="1739.1" width="183.58" height="27.8" fill="#4A6C90"/>
<line x1="354.6" y1="1753" x2="362.5" y2="1753" stroke="#231F20" stroke-width="3.8"/>
<text transform="translate(355.5,1763.8) scale(0.98,1)" font-size="31.5" text-anchor="end" fill="#414042">(46)</text>
<text transform="translate(294.01,1763.8) scale(1.05,1)" font-size="31.5" text-anchor="end" fill="#414042" font-style="italic">Thermoplasmatota</text>
<rect x="707.89" y="1770.2" width="177.11" height="27.8" fill="#748A70"/>
<rect x="387.5" y="1770.2" width="320.39" height="27.8" fill="#4A6C90"/>
<line x1="354.6" y1="1784.1" x2="362.5" y2="1784.1" stroke="#231F20" stroke-width="3.8"/>
<text transform="translate(355.5,1794.9) scale(0.98,1)" font-size="31.5" text-anchor="end" fill="#414042">(45)</text>
<text transform="translate(294.01,1794.9) scale(1.05,1)" font-size="31.5" text-anchor="end" fill="#414042" font-style="italic">Elusimicrobiota</text>
<rect x="806.39" y="1801.3" width="78.6" height="27.8" fill="#748A70"/>
<rect x="701.92" y="1801.3" width="104.47" height="27.8" fill="#A95D62"/>
<rect x="387.5" y="1801.3" width="314.42" height="27.8" fill="#4A6C90"/>
<line x1="354.6" y1="1815.2" x2="362.5" y2="1815.2" stroke="#231F20" stroke-width="3.8"/>
<text transform="translate(355.5,1826) scale(0.98,1)" font-size="31.5" text-anchor="end" fill="#414042">(38)</text>
<text transform="translate(294.01,1826) scale(1.05,1)" font-size="31.5" text-anchor="end" fill="#414042" font-style="italic">Firmicutes_B</text>
<rect x="561.62" y="1832.4" width="323.38" height="27.8" fill="#748A70"/>
<rect x="387.5" y="1832.4" width="174.12" height="27.8" fill="#4A6C90"/>
<line x1="354.6" y1="1846.3" x2="362.5" y2="1846.3" stroke="#231F20" stroke-width="3.8"/>
<text transform="translate(355.5,1857.1) scale(0.98,1)" font-size="31.5" text-anchor="end" fill="#414042">(37)</text>
<text transform="translate(294.01,1857.1) scale(1.05,1)" font-size="31.5" text-anchor="end" fill="#414042" font-style="italic">Methanobacteriota</text>
<rect x="508.39" y="1863.5" width="376.61" height="27.8" fill="#748A70"/>
<rect x="492.97" y="1863.5" width="15.42" height="27.8" fill="#A95D62"/>
<rect x="387.5" y="1863.5" width="105.47" height="27.8" fill="#4A6C90"/>
<line x1="354.6" y1="1877.4" x2="362.5" y2="1877.4" stroke="#231F20" stroke-width="3.8"/>
<text transform="translate(355.5,1888.2) scale(0.98,1)" font-size="31.5" text-anchor="end" fill="#414042">(33)</text>
<text transform="translate(294.01,1888.2) scale(1.05,1)" font-size="31.5" text-anchor="end" fill="#414042" font-style="italic">Fusobacteriota</text>
<rect x="666.6" y="1894.6" width="218.4" height="27.8" fill="#748A70"/>
<rect x="387.5" y="1894.6" width="279.1" height="27.8" fill="#4A6C90"/>
<line x1="354.6" y1="1908.5" x2="362.5" y2="1908.5" stroke="#231F20" stroke-width="3.8"/>
<text transform="translate(355.5,1919.3) scale(0.98,1)" font-size="31.5" text-anchor="end" fill="#414042">(32)</text>
<text transform="translate(294.01,1919.3) scale(1.05,1)" font-size="31.5" text-anchor="end" fill="#414042" font-style="italic">Planctomycetota</text>
<rect x="420.83" y="1925.7" width="464.17" height="27.8" fill="#748A70"/>
<rect x="387.5" y="1925.7" width="33.33" height="27.8" fill="#4A6C90"/>
<line x1="354.6" y1="1939.6" x2="362.5" y2="1939.6" stroke="#231F20" stroke-width="3.8"/>
<text transform="translate(355.5,1950.4) scale(0.98,1)" font-size="31.5" text-anchor="end" fill="#414042">(30)</text>
<text transform="translate(294.01,1950.4) scale(1.05,1)" font-size="31.5" text-anchor="end" fill="#414042" font-style="italic">Synergistota</text>
<rect x="654.66" y="1956.8" width="230.34" height="27.8" fill="#748A70"/>
<rect x="387.5" y="1956.8" width="267.16" height="27.8" fill="#4A6C90"/>
<line x1="354.6" y1="1970.7" x2="362.5" y2="1970.7" stroke="#231F20" stroke-width="3.8"/>
<text transform="translate(355.5,1981.5) scale(0.98,1)" font-size="31.5" text-anchor="end" fill="#414042">(13)</text>
<text transform="translate(294.01,1981.5) scale(1.05,1)" font-size="31.5" text-anchor="end" fill="#414042" font-style="italic">Deferribacterota</text>
<rect x="470.58" y="1987.9" width="414.42" height="27.8" fill="#748A70"/>
<rect x="387.5" y="1987.9" width="83.08" height="27.8" fill="#A95D62"/>
<line x1="354.6" y1="2001.8" x2="362.5" y2="2001.8" stroke="#231F20" stroke-width="3.8"/>
<text transform="translate(355.5,2012.6) scale(0.98,1)" font-size="31.5" text-anchor="end" fill="#414042">(6)</text>
<text transform="translate(311.18,2012.6) scale(1.05,1)" font-size="31.5" text-anchor="end" fill="#414042" font-style="italic">Eremiobacterota</text>
<rect x="387.5" y="2019" width="497.5" height="27.8" fill="#A95D62"/>
<line x1="354.6" y1="2032.9" x2="362.5" y2="2032.9" stroke="#231F20" stroke-width="3.8"/>
<text transform="translate(355.5,2043.7) scale(0.98,1)" font-size="31.5" text-anchor="end" fill="#414042">(4)</text>
<text transform="translate(311.18,2043.7) scale(1.05,1)" font-size="31.5" text-anchor="end" fill="#414042" font-style="italic">Bdellovibrionota_C</text>
<rect x="387.5" y="2050.1" width="497.5" height="27.8" fill="#4A6C90"/>
<line x1="354.6" y1="2064" x2="362.5" y2="2064" stroke="#231F20" stroke-width="3.8"/>
<text transform="translate(355.5,2074.8) scale(0.98,1)" font-size="31.5" text-anchor="end" fill="#414042">(1)</text>
<text transform="translate(311.18,2074.8) scale(1.05,1)" font-size="31.5" text-anchor="end" fill="#414042" font-style="italic">Desulfobacterota</text>
<line x1="363.45" y1="1267.1" x2="363.45" y2="2082.8" stroke="#231F20" stroke-width="2.7"/>
<line x1="362.1" y1="1268.4" x2="909.9" y2="1268.4" stroke="#231F20" stroke-width="2.6"/>
<line x1="908.9" y1="1267.1" x2="908.9" y2="2082.8" stroke="#231F20" stroke-width="2"/>
<line x1="362.1" y1="2081.45" x2="909.9" y2="2081.45" stroke="#231F20" stroke-width="2.7"/>
<line x1="387.5" y1="2082.5" x2="387.5" y2="2091.8" stroke="#231F20" stroke-width="3.7"/>
<text transform="translate(387.5,2121.7)" font-size="29.5" text-anchor="middle" fill="#4D4D4D">0</text>
<line x1="511.88" y1="2082.5" x2="511.88" y2="2091.8" stroke="#231F20" stroke-width="3.7"/>
<text transform="translate(511.88,2121.7)" font-size="29.5" text-anchor="middle" fill="#4D4D4D">25</text>
<line x1="636.25" y1="2082.5" x2="636.25" y2="2091.8" stroke="#231F20" stroke-width="3.7"/>
<text transform="translate(636.25,2121.7)" font-size="29.5" text-anchor="middle" fill="#4D4D4D">50</text>
<line x1="760.62" y1="2082.5" x2="760.62" y2="2091.8" stroke="#231F20" stroke-width="3.7"/>
<text transform="translate(760.62,2121.7)" font-size="29.5" text-anchor="middle" fill="#4D4D4D">75</text>
<line x1="885" y1="2082.5" x2="885" y2="2091.8" stroke="#231F20" stroke-width="3.7"/>
<text transform="translate(885,2121.7)" font-size="29.5" text-anchor="middle" fill="#4D4D4D">100</text>
<text transform="translate(516,2165)" font-size="37" fill="#111" textLength="242.5" lengthAdjust="spacingAndGlyphs">Proportion (%)</text>
</g>
<g id="ph">
<text transform="translate(956,1104)" font-size="54">h</text>
<text transform="translate(962.5,1165.2)" font-size="27.5" fill="#111" textLength="93" lengthAdjust="spacingAndGlyphs">Phylum</text>
<rect x="961.2" y="1184.1" width="15.7" height="15.3" fill="#D4737B"/>
<text transform="translate(988,1202.1)" font-size="27.5" fill="#111" font-style="italic" textLength="123.5" lengthAdjust="spacingAndGlyphs">Proteobacteria</text>
<rect x="961.2" y="1214.2" width="15.7" height="15.3" fill="#F0D5A8"/>
<text transform="translate(988,1231.6)" font-size="27.5" fill="#111" font-style="italic" textLength="122.5" lengthAdjust="spacingAndGlyphs">Spirochaetota</text>
<rect x="961.2" y="1243.9" width="15.7" height="15.3" fill="#4A6C90"/>
<text transform="translate(988,1261.9)" font-size="27.5" fill="#111" font-style="italic" textLength="123.5" lengthAdjust="spacingAndGlyphs">Firmicutes_A</text>
<rect x="1126.2" y="1151.8" width="15.3" height="15" fill="#7FA3C7"/>
<text transform="translate(1147.5,1169.4)" font-size="27.5" fill="#111" font-style="italic" textLength="123" lengthAdjust="spacingAndGlyphs">Firmicutes_C</text>
<rect x="1126.2" y="1182.5" width="15.3" height="15" fill="#A95D62"/>
<text transform="translate(1147.5,1200.4)" font-size="27.5" fill="#111" font-style="italic" textLength="137.5" lengthAdjust="spacingAndGlyphs">Actinobacteriota</text>
<rect x="1126.2" y="1213.5" width="15.3" height="15" fill="#748A70"/>
<text transform="translate(1147.5,1231.5)" font-size="27.5" fill="#111" font-style="italic" textLength="102" lengthAdjust="spacingAndGlyphs">Bacteroidota</text>
<rect x="1126.2" y="1243.9" width="15.3" height="15" fill="#5080A8"/>
<text transform="translate(1147.5,1261.9)" font-size="27.5" fill="#111" font-style="italic" textLength="91" lengthAdjust="spacingAndGlyphs">Firmicutes</text>
<line x1="1117" y1="1286.8" x2="1313.9" y2="1286.8" stroke="#EAE8E9" stroke-width="2.7"/>
<line x1="1117" y1="1306.52" x2="1313.9" y2="1306.52" stroke="#EAE8E9" stroke-width="2.7"/>
<line x1="1117" y1="1326.23" x2="1313.9" y2="1326.23" stroke="#EAE8E9" stroke-width="2.7"/>
<line x1="1117" y1="1345.95" x2="1313.9" y2="1345.95" stroke="#EAE8E9" stroke-width="2.7"/>
<line x1="1117" y1="1365.66" x2="1313.9" y2="1365.66" stroke="#EAE8E9" stroke-width="2.7"/>
<line x1="1117" y1="1385.38" x2="1313.9" y2="1385.38" stroke="#EAE8E9" stroke-width="2.7"/>
<line x1="1117" y1="1405.09" x2="1313.9" y2="1405.09" stroke="#EAE8E9" stroke-width="2.7"/>
<line x1="1117" y1="1424.81" x2="1313.9" y2="1424.81" stroke="#EAE8E9" stroke-width="2.7"/>
<line x1="1117" y1="1444.52" x2="1313.9" y2="1444.52" stroke="#EAE8E9" stroke-width="2.7"/>
<line x1="1117" y1="1464.24" x2="1313.9" y2="1464.24" stroke="#EAE8E9" stroke-width="2.7"/>
<line x1="1117" y1="1483.95" x2="1313.9" y2="1483.95" stroke="#EAE8E9" stroke-width="2.7"/>
<line x1="1117" y1="1503.67" x2="1313.9" y2="1503.67" stroke="#EAE8E9" stroke-width="2.7"/>
<line x1="1117" y1="1523.38" x2="1313.9" y2="1523.38" stroke="#EAE8E9" stroke-width="2.7"/>
<line x1="1117" y1="1543.1" x2="1313.9" y2="1543.1" stroke="#EAE8E9" stroke-width="2.7"/>
<line x1="1117" y1="1562.82" x2="1313.9" y2="1562.82" stroke="#EAE8E9" stroke-width="2.7"/>
<line x1="1117" y1="1582.53" x2="1313.9" y2="1582.53" stroke="#EAE8E9" stroke-width="2.7"/>
<line x1="1117" y1="1602.25" x2="1313.9" y2="1602.25" stroke="#EAE8E9" stroke-width="2.7"/>
<line x1="1117" y1="1621.96" x2="1313.9" y2="1621.96" stroke="#EAE8E9" stroke-width="2.7"/>
<line x1="1117" y1="1641.68" x2="1313.9" y2="1641.68" stroke="#EAE8E9" stroke-width="2.7"/>
<line x1="1117" y1="1661.39" x2="1313.9" y2="1661.39" stroke="#EAE8E9" stroke-width="2.7"/>
<line x1="1117" y1="1681.11" x2="1313.9" y2="1681.11" stroke="#EAE8E9" stroke-width="2.7"/>
<line x1="1117" y1="1700.82" x2="1313.9" y2="1700.82" stroke="#EAE8E9" stroke-width="2.7"/>
<line x1="1117" y1="1720.54" x2="1313.9" y2="1720.54" stroke="#EAE8E9" stroke-width="2.7"/>
<line x1="1117" y1="1740.25" x2="1313.9" y2="1740.25" stroke="#EAE8E9" stroke-width="2.7"/>
<line x1="1117" y1="1759.97" x2="1313.9" y2="1759.97" stroke="#EAE8E9" stroke-width="2.7"/>
<line x1="1117" y1="1779.68" x2="1313.9" y2="1779.68" stroke="#EAE8E9" stroke-width="2.7"/>
<line x1="1117" y1="1799.4" x2="1313.9" y2="1799.4" stroke="#EAE8E9" stroke-width="2.7"/>
<line x1="1117" y1="1819.12" x2="1313.9" y2="1819.12" stroke="#EAE8E9" stroke-width="2.7"/>
<line x1="1117" y1="1838.83" x2="1313.9" y2="1838.83" stroke="#EAE8E9" stroke-width="2.7"/>
<line x1="1117" y1="1858.55" x2="1313.9" y2="1858.55" stroke="#EAE8E9" stroke-width="2.7"/>
<line x1="1117" y1="1878.26" x2="1313.9" y2="1878.26" stroke="#EAE8E9" stroke-width="2.7"/>
<line x1="1117" y1="1897.98" x2="1313.9" y2="1897.98" stroke="#EAE8E9" stroke-width="2.7"/>
<line x1="1117" y1="1917.69" x2="1313.9" y2="1917.69" stroke="#EAE8E9" stroke-width="2.7"/>
<line x1="1117" y1="1937.41" x2="1313.9" y2="1937.41" stroke="#EAE8E9" stroke-width="2.7"/>
<line x1="1117" y1="1957.12" x2="1313.9" y2="1957.12" stroke="#EAE8E9" stroke-width="2.7"/>
<line x1="1117" y1="1976.84" x2="1313.9" y2="1976.84" stroke="#EAE8E9" stroke-width="2.7"/>
<line x1="1117" y1="1996.55" x2="1313.9" y2="1996.55" stroke="#EAE8E9" stroke-width="2.7"/>
<line x1="1117" y1="2016.27" x2="1313.9" y2="2016.27" stroke="#EAE8E9" stroke-width="2.7"/>
<line x1="1117" y1="2035.98" x2="1313.9" y2="2035.98" stroke="#EAE8E9" stroke-width="2.7"/>
<line x1="1117" y1="2055.7" x2="1313.9" y2="2055.7" stroke="#EAE8E9" stroke-width="2.7"/>
<line x1="1152.27" y1="1274.5" x2="1152.27" y2="2064.6" stroke="#EEECED" stroke-width="1.4"/>
<line x1="1208.8" y1="1274.5" x2="1208.8" y2="2064.6" stroke="#EEECED" stroke-width="1.4"/>
<line x1="1265.33" y1="1274.5" x2="1265.33" y2="2064.6" stroke="#EEECED" stroke-width="1.4"/>
<line x1="1124" y1="1274.5" x2="1124" y2="2064.6" stroke="#EAE8E9" stroke-width="2.4"/>
<line x1="1180.53" y1="1274.5" x2="1180.53" y2="2064.6" stroke="#EAE8E9" stroke-width="2.4"/>
<line x1="1237.07" y1="1274.5" x2="1237.07" y2="2064.6" stroke="#EAE8E9" stroke-width="2.4"/>
<line x1="1293.6" y1="1274.5" x2="1293.6" y2="2064.6" stroke="#EAE8E9" stroke-width="2.4"/>
<rect x="1124" y="1278" width="169.6" height="17.6" fill="#748A70"/>
<line x1="1110.1" y1="1286.8" x2="1115.5" y2="1286.8" stroke="#231F20" stroke-width="3"/>
<text transform="translate(958.37,1293)" font-size="20" fill="#C1272D" font-style="italic" textLength="148.83" lengthAdjust="spacingAndGlyphs">Sodaliphilus sp004557565</text>
<rect x="1124" y="1297.72" width="72.36" height="17.6" fill="#748A70"/>
<line x1="1110.1" y1="1306.52" x2="1115.5" y2="1306.52" stroke="#231F20" stroke-width="3"/>
<text transform="translate(964.03,1312.72)" font-size="20" fill="#1a1a1a" font-style="italic" textLength="143.17" lengthAdjust="spacingAndGlyphs">UBA4372 sp900766785</text>
<rect x="1124" y="1317.43" width="62.19" height="17.6" fill="#748A70"/>
<line x1="1110.1" y1="1326.23" x2="1115.5" y2="1326.23" stroke="#231F20" stroke-width="3"/>
<text transform="translate(962.72,1332.43)" font-size="20" fill="#1a1a1a" font-style="italic" textLength="144.48" lengthAdjust="spacingAndGlyphs">Prevotella sp004556065</text>
<rect x="1124" y="1337.15" width="51.78" height="17.6" fill="#4A6C90"/>
<line x1="1110.1" y1="1345.95" x2="1115.5" y2="1345.95" stroke="#231F20" stroke-width="3"/>
<text transform="translate(973.17,1352.15)" font-size="20" fill="#1a1a1a" font-style="italic" textLength="134.03" lengthAdjust="spacingAndGlyphs">SFEL01 sp004557245</text>
<rect x="1124" y="1356.86" width="50.88" height="17.6" fill="#5080A8"/>
<line x1="1110.1" y1="1365.66" x2="1115.5" y2="1365.66" stroke="#231F20" stroke-width="3"/>
<text transform="translate(979.05,1371.86)" font-size="20" fill="#C1272D" font-style="italic" textLength="128.15" lengthAdjust="spacingAndGlyphs">UBA636 sp002299675</text>
<rect x="1124" y="1376.58" width="49.75" height="17.6" fill="#4A6C90"/>
<line x1="1110.1" y1="1385.38" x2="1115.5" y2="1385.38" stroke="#231F20" stroke-width="3"/>
<text transform="translate(987.76,1391.58)" font-size="20" fill="#1a1a1a" font-style="italic" textLength="119.44" lengthAdjust="spacingAndGlyphs">PeH17 sp900542285</text>
<rect x="1124" y="1396.29" width="44.32" height="17.6" fill="#748A70"/>
<line x1="1110.1" y1="1405.09" x2="1115.5" y2="1405.09" stroke="#231F20" stroke-width="3"/>
<text transform="translate(972.09,1411.29)" font-size="20" fill="#1a1a1a" font-style="italic" textLength="135.11" lengthAdjust="spacingAndGlyphs">Limisoma sp004555955</text>
<rect x="1124" y="1416.01" width="43.08" height="17.6" fill="#748A70"/>
<line x1="1110.1" y1="1424.81" x2="1115.5" y2="1424.81" stroke="#231F20" stroke-width="3"/>
<text transform="translate(959.02,1431.01)" font-size="20" fill="#1a1a1a" font-style="italic" textLength="148.18" lengthAdjust="spacingAndGlyphs">Egerieousia sp004561775</text>
<rect x="1124" y="1435.72" width="41.72" height="17.6" fill="#748A70"/>
<line x1="1110.1" y1="1444.52" x2="1115.5" y2="1444.52" stroke="#231F20" stroke-width="3"/>
<text transform="translate(971,1450.72)" font-size="20" fill="#1a1a1a" font-style="italic" textLength="136.2" lengthAdjust="spacingAndGlyphs">Prevotella sp000434975</text>
<rect x="1124" y="1455.44" width="41.27" height="17.6" fill="#748A70"/>
<line x1="1110.1" y1="1464.24" x2="1115.5" y2="1464.24" stroke="#231F20" stroke-width="3"/>
<text transform="translate(949.22,1470.44)" font-size="20" fill="#1a1a1a" font-style="italic" textLength="157.98" lengthAdjust="spacingAndGlyphs">Onthomorpha sp004551865</text>
<rect x="1124" y="1475.15" width="40.7" height="17.6" fill="#748A70"/>
<line x1="1110.1" y1="1483.95" x2="1115.5" y2="1483.95" stroke="#231F20" stroke-width="3"/>
<text transform="translate(971,1490.15)" font-size="20" fill="#1a1a1a" font-style="italic" textLength="136.2" lengthAdjust="spacingAndGlyphs">Prevotella sp002251365</text>
<rect x="1124" y="1494.87" width="40.03" height="17.6" fill="#748A70"/>
<line x1="1110.1" y1="1503.67" x2="1115.5" y2="1503.67" stroke="#231F20" stroke-width="3"/>
<text transform="translate(958.37,1509.87)" font-size="20" fill="#1a1a1a" font-style="italic" textLength="148.83" lengthAdjust="spacingAndGlyphs">Sodaliphilus sp004559845</text>
<rect x="1124" y="1514.58" width="37.65" height="17.6" fill="#748A70"/>
<line x1="1110.1" y1="1523.38" x2="1115.5" y2="1523.38" stroke="#231F20" stroke-width="3"/>
<text transform="translate(924.3,1529.58)" font-size="20" fill="#1a1a1a" font-style="italic" textLength="182.9" lengthAdjust="spacingAndGlyphs">Cryptobacteroides sp004559845</text>
<rect x="1124" y="1534.3" width="36.75" height="17.6" fill="#A95D62"/>
<line x1="1110.1" y1="1543.1" x2="1115.5" y2="1543.1" stroke="#231F20" stroke-width="3"/>
<text transform="translate(962.29,1549.3)" font-size="20" fill="#C1272D" font-style="italic" textLength="144.91" lengthAdjust="spacingAndGlyphs">Collinsella sp002391315</text>
<rect x="1124" y="1554.02" width="35.28" height="17.6" fill="#4A6C90"/>
<line x1="1110.1" y1="1562.82" x2="1115.5" y2="1562.82" stroke="#231F20" stroke-width="3"/>
<text transform="translate(974.26,1569.02)" font-size="20" fill="#1a1a1a" font-style="italic" textLength="132.94" lengthAdjust="spacingAndGlyphs">CAG-177 sp003514385</text>
<rect x="1124" y="1573.73" width="34.6" height="17.6" fill="#F0D5A8"/>
<line x1="1110.1" y1="1582.53" x2="1115.5" y2="1582.53" stroke="#231F20" stroke-width="3"/>
<text transform="translate(968.82,1588.73)" font-size="20" fill="#1a1a1a" font-style="italic" textLength="138.38" lengthAdjust="spacingAndGlyphs">Treponema_D porcinum</text>
<rect x="1124" y="1593.45" width="32.79" height="17.6" fill="#4A6C90"/>
<line x1="1110.1" y1="1602.25" x2="1115.5" y2="1602.25" stroke="#231F20" stroke-width="3"/>
<text transform="translate(987.76,1608.45)" font-size="20" fill="#1a1a1a" font-style="italic" textLength="119.44" lengthAdjust="spacingAndGlyphs">PeH17 sp004556165</text>
<rect x="1124" y="1613.16" width="31.55" height="17.6" fill="#4A6C90"/>
<line x1="1110.1" y1="1621.96" x2="1115.5" y2="1621.96" stroke="#231F20" stroke-width="3"/>
<text transform="translate(974.26,1628.16)" font-size="20" fill="#1a1a1a" font-style="italic" textLength="132.94" lengthAdjust="spacingAndGlyphs">CAG-349 sp003539515</text>
<rect x="1124" y="1632.88" width="30.87" height="17.6" fill="#A95D62"/>
<line x1="1110.1" y1="1641.68" x2="1115.5" y2="1641.68" stroke="#231F20" stroke-width="3"/>
<text transform="translate(959.46,1647.88)" font-size="20" fill="#1a1a1a" font-style="italic" textLength="147.74" lengthAdjust="spacingAndGlyphs">W2P13-069 sp004553405</text>
<rect x="1124" y="1652.59" width="27.59" height="17.6" fill="#4A6C90"/>
<line x1="1110.1" y1="1661.39" x2="1115.5" y2="1661.39" stroke="#231F20" stroke-width="3"/>
<text transform="translate(972.09,1667.59)" font-size="20" fill="#1a1a1a" font-style="italic" textLength="135.11" lengthAdjust="spacingAndGlyphs">UBA2868 sp004552595</text>
<rect x="1124" y="1672.31" width="27.59" height="17.6" fill="#748A70"/>
<line x1="1110.1" y1="1681.11" x2="1115.5" y2="1681.11" stroke="#231F20" stroke-width="3"/>
<text transform="translate(924.3,1687.31)" font-size="20" fill="#1a1a1a" font-style="italic" textLength="182.9" lengthAdjust="spacingAndGlyphs">Cryptobacteroides sp004554455</text>
<rect x="1124" y="1692.02" width="26.91" height="17.6" fill="#748A70"/>
<line x1="1110.1" y1="1700.82" x2="1115.5" y2="1700.82" stroke="#231F20" stroke-width="3"/>
<text transform="translate(973.83,1707.02)" font-size="20" fill="#1a1a1a" font-style="italic" textLength="133.37" lengthAdjust="spacingAndGlyphs">Prevotella sp900548195</text>
<rect x="1124" y="1711.74" width="24.08" height="17.6" fill="#748A70"/>
<line x1="1110.1" y1="1720.54" x2="1115.5" y2="1720.54" stroke="#231F20" stroke-width="3"/>
<text transform="translate(954.67,1726.74)" font-size="20" fill="#1a1a1a" font-style="italic" textLength="152.53" lengthAdjust="spacingAndGlyphs">Alloprevotella sp004552865</text>
<rect x="1124" y="1731.45" width="22.39" height="17.6" fill="#7FA3C7"/>
<line x1="1110.1" y1="1740.25" x2="1115.5" y2="1740.25" stroke="#231F20" stroke-width="3"/>
<text transform="translate(985.15,1746.45)" font-size="20" fill="#1a1a1a" font-style="italic" textLength="122.05" lengthAdjust="spacingAndGlyphs">Megasphaera elsdenii</text>
<rect x="1124" y="1751.17" width="19.56" height="17.6" fill="#4A6C90"/>
<line x1="1110.1" y1="1759.97" x2="1115.5" y2="1759.97" stroke="#231F20" stroke-width="3"/>
<text transform="translate(967.73,1766.17)" font-size="20" fill="#1a1a1a" font-style="italic" textLength="139.47" lengthAdjust="spacingAndGlyphs">Fimenecus sp004555265</text>
<rect x="1124" y="1770.88" width="18.66" height="17.6" fill="#748A70"/>
<line x1="1110.1" y1="1779.68" x2="1115.5" y2="1779.68" stroke="#231F20" stroke-width="3"/>
<text transform="translate(973.83,1785.88)" font-size="20" fill="#1a1a1a" font-style="italic" textLength="133.37" lengthAdjust="spacingAndGlyphs">Prevotella sp004555245</text>
<rect x="1124" y="1790.6" width="18.66" height="17.6" fill="#4A6C90"/>
<line x1="1110.1" y1="1799.4" x2="1115.5" y2="1799.4" stroke="#231F20" stroke-width="3"/>
<text transform="translate(981.88,1805.6)" font-size="20" fill="#1a1a1a" font-style="italic" textLength="125.32" lengthAdjust="spacingAndGlyphs">UBA644 sp002299265</text>
<rect x="1124" y="1810.32" width="17.86" height="17.6" fill="#4A6C90"/>
<line x1="1110.1" y1="1819.12" x2="1115.5" y2="1819.12" stroke="#231F20" stroke-width="3"/>
<text transform="translate(996.47,1825.32)" font-size="20" fill="#1a1a1a" font-style="italic" textLength="110.73" lengthAdjust="spacingAndGlyphs">ER4 sp016295615</text>
<rect x="1124" y="1830.03" width="17.41" height="17.6" fill="#748A70"/>
<line x1="1110.1" y1="1838.83" x2="1115.5" y2="1838.83" stroke="#231F20" stroke-width="3"/>
<text transform="translate(965.55,1845.03)" font-size="20" fill="#1a1a1a" font-style="italic" textLength="141.65" lengthAdjust="spacingAndGlyphs">Alloprevotella sp004552155</text>
<rect x="1124" y="1849.75" width="16.96" height="17.6" fill="#748A70"/>
<line x1="1110.1" y1="1858.55" x2="1115.5" y2="1858.55" stroke="#231F20" stroke-width="3"/>
<text transform="translate(924.3,1864.75)" font-size="20" fill="#1a1a1a" font-style="italic" textLength="182.9" lengthAdjust="spacingAndGlyphs">Cryptobacteroides sp004552115</text>
<rect x="1124" y="1869.46" width="16.28" height="17.6" fill="#748A70"/>
<line x1="1110.1" y1="1878.26" x2="1115.5" y2="1878.26" stroke="#231F20" stroke-width="3"/>
<text transform="translate(944.21,1884.46)" font-size="20" fill="#1a1a1a" font-style="italic" textLength="162.99" lengthAdjust="spacingAndGlyphs">Parabacteroides sp004562445</text>
<rect x="1124" y="1889.18" width="15.6" height="17.6" fill="#4A6C90"/>
<line x1="1110.1" y1="1897.98" x2="1115.5" y2="1897.98" stroke="#231F20" stroke-width="3"/>
<text transform="translate(972.52,1904.18)" font-size="20" fill="#1a1a1a" font-style="italic" textLength="134.68" lengthAdjust="spacingAndGlyphs">UMGS1668 sp004556975</text>
<rect x="1124" y="1908.89" width="15.04" height="17.6" fill="#4A6C90"/>
<line x1="1110.1" y1="1917.69" x2="1115.5" y2="1917.69" stroke="#231F20" stroke-width="3"/>
<text transform="translate(989.94,1923.89)" font-size="20" fill="#1a1a1a" font-style="italic" textLength="117.26" lengthAdjust="spacingAndGlyphs">UBA738 sp004557735</text>
<rect x="1124" y="1928.61" width="14.81" height="17.6" fill="#748A70"/>
<line x1="1110.1" y1="1937.41" x2="1115.5" y2="1937.41" stroke="#231F20" stroke-width="3"/>
<text transform="translate(972.09,1943.61)" font-size="20" fill="#1a1a1a" font-style="italic" textLength="135.11" lengthAdjust="spacingAndGlyphs">W0P31-042 sp004557195</text>
<rect x="1124" y="1948.32" width="14.81" height="17.6" fill="#4A6C90"/>
<line x1="1110.1" y1="1957.12" x2="1115.5" y2="1957.12" stroke="#231F20" stroke-width="3"/>
<text transform="translate(985.15,1963.32)" font-size="20" fill="#1a1a1a" font-style="italic" textLength="122.05" lengthAdjust="spacingAndGlyphs">Gemmiger variabilis_A</text>
<rect x="1124" y="1968.04" width="14.81" height="17.6" fill="#D4737B"/>
<line x1="1110.1" y1="1976.84" x2="1115.5" y2="1976.84" stroke="#231F20" stroke-width="3"/>
<text transform="translate(962.94,1983.04)" font-size="20" fill="#1a1a1a" font-style="italic" textLength="144.26" lengthAdjust="spacingAndGlyphs">Succinivibrio sp003456415</text>
<rect x="1124" y="1987.75" width="14.13" height="17.6" fill="#4A6C90"/>
<line x1="1110.1" y1="1996.55" x2="1115.5" y2="1996.55" stroke="#231F20" stroke-width="3"/>
<text transform="translate(994.95,2002.75)" font-size="20" fill="#1a1a1a" font-style="italic" textLength="112.25" lengthAdjust="spacingAndGlyphs">F23-B02 sp00431075</text>
<rect x="1124" y="2007.47" width="13.91" height="17.6" fill="#4A6C90"/>
<line x1="1110.1" y1="2016.27" x2="1115.5" y2="2016.27" stroke="#231F20" stroke-width="3"/>
<text transform="translate(967.73,2022.47)" font-size="20" fill="#1a1a1a" font-style="italic" textLength="139.47" lengthAdjust="spacingAndGlyphs">Fimenecus sp004556705</text>
<rect x="1124" y="2027.18" width="13.45" height="17.6" fill="#4A6C90"/>
<line x1="1110.1" y1="2035.98" x2="1115.5" y2="2035.98" stroke="#231F20" stroke-width="3"/>
<text transform="translate(982.97,2042.18)" font-size="20" fill="#1a1a1a" font-style="italic" textLength="124.23" lengthAdjust="spacingAndGlyphs">UBA1417 sp003531055</text>
<rect x="1124" y="2046.9" width="13" height="17.6" fill="#5080A8"/>
<line x1="1110.1" y1="2055.7" x2="1115.5" y2="2055.7" stroke="#231F20" stroke-width="3"/>
<text transform="translate(968.82,2061.9)" font-size="20" fill="#1a1a1a" font-style="italic" textLength="138.38" lengthAdjust="spacingAndGlyphs">Turicibacter sp001543345</text>
<line x1="1115.9" y1="1273.5" x2="1115.9" y2="2067.4" stroke="#231F20" stroke-width="2.7"/>
<line x1="1114.5" y1="2066.3" x2="1314" y2="2064.9" stroke="#231F20" stroke-width="2.7"/>
<line x1="1124" y1="2066" x2="1124" y2="2076.5" stroke="#231F20" stroke-width="3"/>
<line x1="1180.53" y1="2066" x2="1180.53" y2="2076.5" stroke="#231F20" stroke-width="3"/>
<line x1="1237.07" y1="2066" x2="1237.07" y2="2076.5" stroke="#231F20" stroke-width="3"/>
<line x1="1293.6" y1="2066" x2="1293.6" y2="2076.5" stroke="#231F20" stroke-width="3"/>
<text transform="translate(1109.92,2076.5) rotate(90) scale(0.97,1)" font-size="31.5" fill="#111">0</text>
<text transform="translate(1171.62,2076.5) rotate(90) scale(0.97,1)" font-size="31.5" fill="#111">500</text>
<text transform="translate(1225.52,2076.5) rotate(90) scale(0.97,1)" font-size="31.5" fill="#111">1000</text>
<text transform="translate(1280.52,2076.5) rotate(90) scale(0.97,1)" font-size="31.5" fill="#111">1500</text>
<rect x="1412.23" y="1275.4" width="90.87" height="18" fill="#748A70"/>
<rect x="1316.9" y="1275.4" width="95.33" height="18" fill="#A95D62"/>
<rect x="1341.11" y="1295.11" width="161.99" height="18" fill="#748A70"/>
<rect x="1316.9" y="1295.11" width="24.21" height="18" fill="#A95D62"/>
<rect x="1346.32" y="1314.82" width="156.78" height="18" fill="#748A70"/>
<rect x="1316.9" y="1314.82" width="29.42" height="18" fill="#A95D62"/>
<rect x="1398.08" y="1334.52" width="105.02" height="18" fill="#748A70"/>
<rect x="1316.9" y="1334.52" width="81.18" height="18" fill="#A95D62"/>
<rect x="1341.29" y="1354.23" width="161.81" height="18" fill="#748A70"/>
<rect x="1316.9" y="1354.23" width="24.39" height="18" fill="#A95D62"/>
<rect x="1331.8" y="1373.94" width="171.3" height="18" fill="#748A70"/>
<rect x="1316.9" y="1373.94" width="14.9" height="18" fill="#A95D62"/>
<rect x="1329.38" y="1393.65" width="173.72" height="18" fill="#748A70"/>
<rect x="1316.9" y="1393.65" width="12.48" height="18" fill="#A95D62"/>
<rect x="1337.38" y="1413.35" width="165.72" height="18" fill="#748A70"/>
<rect x="1316.9" y="1413.35" width="20.48" height="18" fill="#A95D62"/>
<rect x="1404.23" y="1433.06" width="98.87" height="18" fill="#748A70"/>
<rect x="1316.9" y="1433.06" width="87.33" height="18" fill="#A95D62"/>
<rect x="1352.84" y="1452.77" width="150.26" height="18" fill="#748A70"/>
<rect x="1316.9" y="1452.77" width="35.94" height="18" fill="#A95D62"/>
<rect x="1345.39" y="1472.48" width="157.71" height="18" fill="#748A70"/>
<rect x="1316.9" y="1472.48" width="28.49" height="18" fill="#A95D62"/>
<rect x="1336.26" y="1492.18" width="166.84" height="18" fill="#748A70"/>
<rect x="1316.9" y="1492.18" width="19.36" height="18" fill="#A95D62"/>
<rect x="1337.38" y="1511.89" width="165.72" height="18" fill="#748A70"/>
<rect x="1316.9" y="1511.89" width="20.48" height="18" fill="#A95D62"/>
<rect x="1421.36" y="1531.6" width="81.74" height="18" fill="#748A70"/>
<rect x="1316.9" y="1531.6" width="104.46" height="18" fill="#A95D62"/>
<rect x="1375.93" y="1551.31" width="127.17" height="18" fill="#748A70"/>
<rect x="1316.9" y="1551.31" width="59.03" height="18" fill="#A95D62"/>
<rect x="1345.39" y="1571.02" width="157.71" height="18" fill="#748A70"/>
<rect x="1316.9" y="1571.02" width="28.49" height="18" fill="#A95D62"/>
<rect x="1324.16" y="1590.72" width="178.94" height="18" fill="#748A70"/>
<rect x="1316.9" y="1590.72" width="7.26" height="18" fill="#A95D62"/>
<rect x="1369.04" y="1610.43" width="134.06" height="18" fill="#748A70"/>
<rect x="1316.9" y="1610.43" width="52.14" height="18" fill="#A95D62"/>
<rect x="1334.96" y="1630.14" width="168.14" height="18" fill="#748A70"/>
<rect x="1316.9" y="1630.14" width="18.06" height="18" fill="#A95D62"/>
<rect x="1340.73" y="1649.85" width="162.37" height="18" fill="#748A70"/>
<rect x="1316.9" y="1649.85" width="23.83" height="18" fill="#A95D62"/>
<rect x="1355.07" y="1669.55" width="148.03" height="18" fill="#748A70"/>
<rect x="1316.9" y="1669.55" width="38.17" height="18" fill="#A95D62"/>
<rect x="1337.2" y="1689.26" width="165.9" height="18" fill="#748A70"/>
<rect x="1316.9" y="1689.26" width="20.3" height="18" fill="#A95D62"/>
<rect x="1355.07" y="1708.97" width="148.03" height="18" fill="#748A70"/>
<rect x="1316.9" y="1708.97" width="38.17" height="18" fill="#A95D62"/>
<rect x="1405.16" y="1728.68" width="97.94" height="18" fill="#748A70"/>
<rect x="1316.9" y="1728.68" width="88.26" height="18" fill="#A95D62"/>
<rect x="1376.11" y="1748.38" width="126.99" height="18" fill="#748A70"/>
<rect x="1316.9" y="1748.38" width="59.21" height="18" fill="#A95D62"/>
<rect x="1339.43" y="1768.09" width="163.67" height="18" fill="#748A70"/>
<rect x="1316.9" y="1768.09" width="22.53" height="18" fill="#A95D62"/>
<rect x="1362.33" y="1787.8" width="140.77" height="18" fill="#748A70"/>
<rect x="1316.9" y="1787.8" width="45.43" height="18" fill="#A95D62"/>
<rect x="1325.09" y="1807.51" width="178.01" height="18" fill="#748A70"/>
<rect x="1316.9" y="1807.51" width="8.19" height="18" fill="#A95D62"/>
<rect x="1398.27" y="1827.22" width="104.83" height="18" fill="#748A70"/>
<rect x="1316.9" y="1827.22" width="81.37" height="18" fill="#A95D62"/>
<rect x="1380.21" y="1846.92" width="122.89" height="18" fill="#748A70"/>
<rect x="1316.9" y="1846.92" width="63.31" height="18" fill="#A95D62"/>
<rect x="1340.73" y="1866.63" width="162.37" height="18" fill="#748A70"/>
<rect x="1316.9" y="1866.63" width="23.83" height="18" fill="#A95D62"/>
<rect x="1346.69" y="1886.34" width="156.41" height="18" fill="#748A70"/>
<rect x="1316.9" y="1886.34" width="29.79" height="18" fill="#A95D62"/>
<rect x="1354.51" y="1906.05" width="148.59" height="18" fill="#748A70"/>
<rect x="1316.9" y="1906.05" width="37.61" height="18" fill="#A95D62"/>
<rect x="1380.58" y="1925.75" width="122.52" height="18" fill="#748A70"/>
<rect x="1316.9" y="1925.75" width="63.68" height="18" fill="#A95D62"/>
<rect x="1405.53" y="1945.46" width="97.57" height="18" fill="#748A70"/>
<rect x="1316.9" y="1945.46" width="88.63" height="18" fill="#A95D62"/>
<rect x="1344.27" y="1965.17" width="158.83" height="18" fill="#748A70"/>
<rect x="1316.9" y="1965.17" width="27.37" height="18" fill="#A95D62"/>
<rect x="1388.4" y="1984.88" width="114.7" height="18" fill="#748A70"/>
<rect x="1316.9" y="1984.88" width="71.5" height="18" fill="#A95D62"/>
<rect x="1380.21" y="2004.58" width="122.89" height="18" fill="#748A70"/>
<rect x="1316.9" y="2004.58" width="63.31" height="18" fill="#A95D62"/>
<rect x="1396.41" y="2024.29" width="106.69" height="18" fill="#748A70"/>
<rect x="1316.9" y="2024.29" width="79.51" height="18" fill="#A95D62"/>
<rect x="1333.1" y="2044" width="170" height="18" fill="#748A70"/>
<rect x="1316.9" y="2044" width="16.2" height="18" fill="#A95D62"/>
<line x1="1410.6" y1="1273.5" x2="1410.6" y2="2065" stroke="#39443B" stroke-width="2.3" stroke-opacity="0.88"/>
<line x1="1315.8" y1="2065.2" x2="1504.6" y2="2065.2" stroke="#231F20" stroke-width="3.2"/>
<line x1="1317.4" y1="2065.2" x2="1317.4" y2="2076.6" stroke="#231F20" stroke-width="3"/>
<line x1="1363.8" y1="2065.2" x2="1363.8" y2="2076.6" stroke="#231F20" stroke-width="3"/>
<line x1="1410.2" y1="2065.2" x2="1410.2" y2="2076.6" stroke="#231F20" stroke-width="3"/>
<line x1="1456.6" y1="2065.2" x2="1456.6" y2="2076.6" stroke="#231F20" stroke-width="3"/>
<line x1="1503" y1="2065.2" x2="1503" y2="2076.6" stroke="#231F20" stroke-width="3"/>
<text transform="translate(1307.87,2078.6) rotate(90) scale(0.97,1)" font-size="35" fill="#111">0</text>
<text transform="translate(1352.57,2078.6) rotate(90) scale(0.97,1)" font-size="35" fill="#111">25</text>
<text transform="translate(1397.37,2078.6) rotate(90) scale(0.97,1)" font-size="35" fill="#111">50</text>
<text transform="translate(1444.97,2078.6) rotate(90) scale(0.97,1)" font-size="35" fill="#111">75</text>
<text transform="translate(1486.87,2080.8) rotate(90) scale(0.89,1)" font-size="35" fill="#111">100</text>
<rect x="1321.2" y="1244.5" width="14.7" height="14.7" fill="#A95D62"/>
<text transform="translate(1347.5,1258.6)" font-size="29.5" fill="#111" textLength="72" lengthAdjust="spacingAndGlyphs">piglet</text>
<rect x="1425" y="1244.5" width="14.7" height="14.7" fill="#748A70"/>
<text transform="translate(1447.3,1258.6)" font-size="29.5" fill="#111" textLength="66.5" lengthAdjust="spacingAndGlyphs">adult</text>
<rect x="1693.61" y="1268.9" width="3.49" height="17.8" fill="#F0D5A8"/>
<rect x="1643.42" y="1268.9" width="50.2" height="17.8" fill="#7FA2C3"/>
<rect x="1522.8" y="1268.9" width="120.62" height="17.8" fill="#A3A1D4"/>
<rect x="1689.95" y="1288.77" width="7.15" height="17.8" fill="#F0D5A8"/>
<rect x="1604.72" y="1288.77" width="85.23" height="17.8" fill="#7FA2C3"/>
<rect x="1522.8" y="1288.77" width="81.92" height="17.8" fill="#A3A1D4"/>
<rect x="1694.83" y="1308.65" width="2.27" height="17.8" fill="#F0D5A8"/>
<rect x="1615.7" y="1308.65" width="79.13" height="17.8" fill="#7FA2C3"/>
<rect x="1522.8" y="1308.65" width="92.9" height="17.8" fill="#A3A1D4"/>
<rect x="1696.23" y="1328.52" width="0.87" height="17.8" fill="#F0D5A8"/>
<rect x="1627.55" y="1328.52" width="68.67" height="17.8" fill="#7FA2C3"/>
<rect x="1522.8" y="1328.52" width="104.75" height="17.8" fill="#A3A1D4"/>
<rect x="1696.23" y="1348.4" width="0.87" height="17.8" fill="#F0D5A8"/>
<rect x="1622.15" y="1348.4" width="74.08" height="17.8" fill="#7FA2C3"/>
<rect x="1522.8" y="1348.4" width="99.35" height="17.8" fill="#A3A1D4"/>
<rect x="1696.23" y="1368.27" width="0.87" height="17.8" fill="#F0D5A8"/>
<rect x="1611.34" y="1368.27" width="84.88" height="17.8" fill="#7FA2C3"/>
<rect x="1522.8" y="1368.27" width="88.54" height="17.8" fill="#A3A1D4"/>
<rect x="1616.57" y="1388.15" width="80.53" height="17.8" fill="#7FA2C3"/>
<rect x="1522.8" y="1388.15" width="93.77" height="17.8" fill="#A3A1D4"/>
<rect x="1692.92" y="1408.02" width="4.18" height="17.8" fill="#F0D5A8"/>
<rect x="1606.46" y="1408.02" width="86.45" height="17.8" fill="#7FA2C3"/>
<rect x="1522.8" y="1408.02" width="83.66" height="17.8" fill="#A3A1D4"/>
<rect x="1693.61" y="1427.89" width="3.49" height="17.8" fill="#F0D5A8"/>
<rect x="1630.52" y="1427.89" width="63.1" height="17.8" fill="#7FA2C3"/>
<rect x="1522.8" y="1427.89" width="107.72" height="17.8" fill="#A3A1D4"/>
<rect x="1694.83" y="1447.77" width="2.27" height="17.8" fill="#F0D5A8"/>
<rect x="1600.89" y="1447.77" width="93.95" height="17.8" fill="#7FA2C3"/>
<rect x="1522.8" y="1447.77" width="78.09" height="17.8" fill="#A3A1D4"/>
<rect x="1696.23" y="1467.64" width="0.87" height="17.8" fill="#F0D5A8"/>
<rect x="1632.61" y="1467.64" width="63.62" height="17.8" fill="#7FA2C3"/>
<rect x="1522.8" y="1467.64" width="109.81" height="17.8" fill="#A3A1D4"/>
<rect x="1594.79" y="1487.52" width="102.31" height="17.8" fill="#7FA2C3"/>
<rect x="1522.8" y="1487.52" width="71.99" height="17.8" fill="#A3A1D4"/>
<rect x="1695.01" y="1507.39" width="2.09" height="17.8" fill="#F0D5A8"/>
<rect x="1598.45" y="1507.39" width="96.56" height="17.8" fill="#7FA2C3"/>
<rect x="1522.8" y="1507.39" width="75.65" height="17.8" fill="#A3A1D4"/>
<rect x="1624.59" y="1527.27" width="72.51" height="17.8" fill="#7FA2C3"/>
<rect x="1522.8" y="1527.27" width="101.79" height="17.8" fill="#A3A1D4"/>
<rect x="1692.92" y="1547.14" width="4.18" height="17.8" fill="#F0D5A8"/>
<rect x="1608.56" y="1547.14" width="84.36" height="17.8" fill="#7FA2C3"/>
<rect x="1522.8" y="1547.14" width="85.76" height="17.8" fill="#A3A1D4"/>
<rect x="1693.44" y="1567.02" width="3.66" height="17.8" fill="#F0D5A8"/>
<rect x="1585.55" y="1567.02" width="107.89" height="17.8" fill="#7FA2C3"/>
<rect x="1522.8" y="1567.02" width="62.75" height="17.8" fill="#A3A1D4"/>
<rect x="1695.88" y="1586.89" width="1.22" height="17.8" fill="#F0D5A8"/>
<rect x="1599.84" y="1586.89" width="96.04" height="17.8" fill="#7FA2C3"/>
<rect x="1522.8" y="1586.89" width="77.04" height="17.8" fill="#A3A1D4"/>
<rect x="1686.99" y="1606.76" width="10.11" height="17.8" fill="#F0D5A8"/>
<rect x="1578.4" y="1606.76" width="108.59" height="17.8" fill="#7FA2C3"/>
<rect x="1522.8" y="1606.76" width="55.6" height="17.8" fill="#A3A1D4"/>
<rect x="1607.51" y="1626.64" width="89.59" height="17.8" fill="#7FA2C3"/>
<rect x="1522.8" y="1626.64" width="84.71" height="17.8" fill="#A3A1D4"/>
<rect x="1591.47" y="1646.51" width="105.63" height="17.8" fill="#7FA2C3"/>
<rect x="1522.8" y="1646.51" width="68.67" height="17.8" fill="#A3A1D4"/>
<rect x="1695.01" y="1666.39" width="2.09" height="17.8" fill="#F0D5A8"/>
<rect x="1602.8" y="1666.39" width="92.2" height="17.8" fill="#7FA2C3"/>
<rect x="1522.8" y="1666.39" width="80" height="17.8" fill="#A3A1D4"/>
<rect x="1693.27" y="1686.26" width="3.83" height="17.8" fill="#F0D5A8"/>
<rect x="1618.49" y="1686.26" width="74.77" height="17.8" fill="#7FA2C3"/>
<rect x="1522.8" y="1686.26" width="95.69" height="17.8" fill="#A3A1D4"/>
<rect x="1685.94" y="1706.14" width="11.16" height="17.8" fill="#F0D5A8"/>
<rect x="1599.84" y="1706.14" width="86.1" height="17.8" fill="#7FA2C3"/>
<rect x="1522.8" y="1706.14" width="77.04" height="17.8" fill="#A3A1D4"/>
<rect x="1693.44" y="1726.01" width="3.66" height="17.8" fill="#F0D5A8"/>
<rect x="1621.63" y="1726.01" width="71.81" height="17.8" fill="#7FA2C3"/>
<rect x="1522.8" y="1726.01" width="98.83" height="17.8" fill="#A3A1D4"/>
<rect x="1623.02" y="1745.88" width="74.08" height="17.8" fill="#7FA2C3"/>
<rect x="1522.8" y="1745.88" width="100.22" height="17.8" fill="#A3A1D4"/>
<rect x="1618.66" y="1765.76" width="78.43" height="17.8" fill="#7FA2C3"/>
<rect x="1522.8" y="1765.76" width="95.86" height="17.8" fill="#A3A1D4"/>
<rect x="1623.2" y="1785.63" width="73.9" height="17.8" fill="#7FA2C3"/>
<rect x="1522.8" y="1785.63" width="100.4" height="17.8" fill="#A3A1D4"/>
<rect x="1573.87" y="1805.51" width="123.23" height="17.8" fill="#7FA2C3"/>
<rect x="1522.8" y="1805.51" width="51.07" height="17.8" fill="#A3A1D4"/>
<rect x="1631.74" y="1825.38" width="65.36" height="17.8" fill="#7FA2C3"/>
<rect x="1522.8" y="1825.38" width="108.94" height="17.8" fill="#A3A1D4"/>
<rect x="1691.35" y="1845.26" width="5.75" height="17.8" fill="#F0D5A8"/>
<rect x="1617.44" y="1845.26" width="73.9" height="17.8" fill="#7FA2C3"/>
<rect x="1522.8" y="1845.26" width="94.64" height="17.8" fill="#A3A1D4"/>
<rect x="1597.75" y="1865.13" width="99.35" height="17.8" fill="#7FA2C3"/>
<rect x="1522.8" y="1865.13" width="74.95" height="17.8" fill="#A3A1D4"/>
<rect x="1589.56" y="1885.01" width="107.54" height="17.8" fill="#7FA2C3"/>
<rect x="1522.8" y="1885.01" width="66.76" height="17.8" fill="#A3A1D4"/>
<rect x="1593.74" y="1904.88" width="103.36" height="17.8" fill="#7FA2C3"/>
<rect x="1522.8" y="1904.88" width="70.94" height="17.8" fill="#A3A1D4"/>
<rect x="1616.4" y="1924.75" width="80.7" height="17.8" fill="#7FA2C3"/>
<rect x="1522.8" y="1924.75" width="93.6" height="17.8" fill="#A3A1D4"/>
<rect x="1654.57" y="1944.63" width="42.53" height="17.8" fill="#7FA2C3"/>
<rect x="1522.8" y="1944.63" width="131.77" height="17.8" fill="#A3A1D4"/>
<rect x="1693.27" y="1964.5" width="3.83" height="17.8" fill="#F0D5A8"/>
<rect x="1607.51" y="1964.5" width="85.76" height="17.8" fill="#7FA2C3"/>
<rect x="1522.8" y="1964.5" width="84.71" height="17.8" fill="#A3A1D4"/>
<rect x="1613.78" y="1984.38" width="83.32" height="17.8" fill="#7FA2C3"/>
<rect x="1522.8" y="1984.38" width="90.98" height="17.8" fill="#A3A1D4"/>
<rect x="1692.74" y="2004.25" width="4.36" height="17.8" fill="#F0D5A8"/>
<rect x="1608.56" y="2004.25" width="84.19" height="17.8" fill="#7FA2C3"/>
<rect x="1522.8" y="2004.25" width="85.76" height="17.8" fill="#A3A1D4"/>
<rect x="1639.06" y="2024.13" width="58.04" height="17.8" fill="#7FA2C3"/>
<rect x="1522.8" y="2024.13" width="116.26" height="17.8" fill="#A3A1D4"/>
<rect x="1578.4" y="2044" width="118.7" height="17.8" fill="#7FA2C3"/>
<rect x="1522.8" y="2044" width="55.6" height="17.8" fill="#A3A1D4"/>
<rect x="1522.8" y="1268.9" width="174.3" height="5.5" fill="#fff" fill-opacity="0.18"/>
<line x1="1610" y1="1272" x2="1610" y2="2064.5" stroke="#3F4A66" stroke-width="2.5" stroke-opacity="0.85"/>
<line x1="1510.9" y1="2065.6" x2="1708" y2="2065" stroke="#231F20" stroke-width="3.1"/>
<line x1="1522.9" y1="2065.3" x2="1522.9" y2="2076.6" stroke="#231F20" stroke-width="3"/>
<line x1="1566.45" y1="2065.3" x2="1566.45" y2="2076.6" stroke="#231F20" stroke-width="3"/>
<line x1="1610" y1="2065.3" x2="1610" y2="2076.6" stroke="#231F20" stroke-width="3"/>
<line x1="1653.55" y1="2065.3" x2="1653.55" y2="2076.6" stroke="#231F20" stroke-width="3"/>
<line x1="1697.1" y1="2065.3" x2="1697.1" y2="2076.6" stroke="#231F20" stroke-width="3"/>
<text transform="translate(1514.37,2079.3) rotate(90) scale(0.97,1)" font-size="35" fill="#111">0</text>
<text transform="translate(1555.47,2079.3) rotate(90) scale(0.97,1)" font-size="35" fill="#111">25</text>
<text transform="translate(1597.37,2079.3) rotate(90) scale(0.97,1)" font-size="35" fill="#111">50</text>
<text transform="translate(1638.57,2079.3) rotate(90) scale(0.97,1)" font-size="35" fill="#111">75</text>
<text transform="translate(1680.37,2081.5) rotate(90) scale(0.89,1)" font-size="35" fill="#111">100</text>
<rect x="1532.8" y="1177.1" width="14.6" height="14" fill="#A3A1D4"/>
<text transform="translate(1552,1196.2)" font-size="29" fill="#111" textLength="100.5" lengthAdjust="spacingAndGlyphs">Female</text>
<rect x="1532.8" y="1209.7" width="14.6" height="14" fill="#7FA2C3"/>
<text transform="translate(1552,1227.6)" font-size="29" fill="#111" textLength="66" lengthAdjust="spacingAndGlyphs">Male</text>
<rect x="1532.8" y="1241.1" width="14.6" height="14" fill="#F0D5A8"/>
<text transform="translate(1552,1259.4)" font-size="29" fill="#111" textLength="111.5" lengthAdjust="spacingAndGlyphs">Castrated</text>
<line x1="1711" y1="1280.6" x2="1909" y2="1280.6" stroke="#EAE8E9" stroke-width="2.7"/>
<line x1="1711" y1="1300.36" x2="1909" y2="1300.36" stroke="#EAE8E9" stroke-width="2.7"/>
<line x1="1711" y1="1320.12" x2="1909" y2="1320.12" stroke="#EAE8E9" stroke-width="2.7"/>
<line x1="1711" y1="1339.88" x2="1909" y2="1339.88" stroke="#EAE8E9" stroke-width="2.7"/>
<line x1="1711" y1="1359.65" x2="1909" y2="1359.65" stroke="#EAE8E9" stroke-width="2.7"/>
<line x1="1711" y1="1379.41" x2="1909" y2="1379.41" stroke="#EAE8E9" stroke-width="2.7"/>
<line x1="1711" y1="1399.17" x2="1909" y2="1399.17" stroke="#EAE8E9" stroke-width="2.7"/>
<line x1="1711" y1="1418.93" x2="1909" y2="1418.93" stroke="#EAE8E9" stroke-width="2.7"/>
<line x1="1711" y1="1438.69" x2="1909" y2="1438.69" stroke="#EAE8E9" stroke-width="2.7"/>
<line x1="1711" y1="1458.45" x2="1909" y2="1458.45" stroke="#EAE8E9" stroke-width="2.7"/>
<line x1="1711" y1="1478.22" x2="1909" y2="1478.22" stroke="#EAE8E9" stroke-width="2.7"/>
<line x1="1711" y1="1497.98" x2="1909" y2="1497.98" stroke="#EAE8E9" stroke-width="2.7"/>
<line x1="1711" y1="1517.74" x2="1909" y2="1517.74" stroke="#EAE8E9" stroke-width="2.7"/>
<line x1="1711" y1="1537.5" x2="1909" y2="1537.5" stroke="#EAE8E9" stroke-width="2.7"/>
<line x1="1711" y1="1557.26" x2="1909" y2="1557.26" stroke="#EAE8E9" stroke-width="2.7"/>
<line x1="1711" y1="1577.02" x2="1909" y2="1577.02" stroke="#EAE8E9" stroke-width="2.7"/>
<line x1="1711" y1="1596.78" x2="1909" y2="1596.78" stroke="#EAE8E9" stroke-width="2.7"/>
<line x1="1711" y1="1616.55" x2="1909" y2="1616.55" stroke="#EAE8E9" stroke-width="2.7"/>
<line x1="1711" y1="1636.31" x2="1909" y2="1636.31" stroke="#EAE8E9" stroke-width="2.7"/>
<line x1="1711" y1="1656.07" x2="1909" y2="1656.07" stroke="#EAE8E9" stroke-width="2.7"/>
<line x1="1711" y1="1675.83" x2="1909" y2="1675.83" stroke="#EAE8E9" stroke-width="2.7"/>
<line x1="1711" y1="1695.59" x2="1909" y2="1695.59" stroke="#EAE8E9" stroke-width="2.7"/>
<line x1="1711" y1="1715.35" x2="1909" y2="1715.35" stroke="#EAE8E9" stroke-width="2.7"/>
<line x1="1711" y1="1735.12" x2="1909" y2="1735.12" stroke="#EAE8E9" stroke-width="2.7"/>
<line x1="1711" y1="1754.88" x2="1909" y2="1754.88" stroke="#EAE8E9" stroke-width="2.7"/>
<line x1="1711" y1="1774.64" x2="1909" y2="1774.64" stroke="#EAE8E9" stroke-width="2.7"/>
<line x1="1711" y1="1794.4" x2="1909" y2="1794.4" stroke="#EAE8E9" stroke-width="2.7"/>
<line x1="1711" y1="1814.16" x2="1909" y2="1814.16" stroke="#EAE8E9" stroke-width="2.7"/>
<line x1="1711" y1="1833.92" x2="1909" y2="1833.92" stroke="#EAE8E9" stroke-width="2.7"/>
<line x1="1711" y1="1853.68" x2="1909" y2="1853.68" stroke="#EAE8E9" stroke-width="2.7"/>
<line x1="1711" y1="1873.45" x2="1909" y2="1873.45" stroke="#EAE8E9" stroke-width="2.7"/>
<line x1="1711" y1="1893.21" x2="1909" y2="1893.21" stroke="#EAE8E9" stroke-width="2.7"/>
<line x1="1711" y1="1912.97" x2="1909" y2="1912.97" stroke="#EAE8E9" stroke-width="2.7"/>
<line x1="1711" y1="1932.73" x2="1909" y2="1932.73" stroke="#EAE8E9" stroke-width="2.7"/>
<line x1="1711" y1="1952.49" x2="1909" y2="1952.49" stroke="#EAE8E9" stroke-width="2.7"/>
<line x1="1711" y1="1972.25" x2="1909" y2="1972.25" stroke="#EAE8E9" stroke-width="2.7"/>
<line x1="1711" y1="1992.02" x2="1909" y2="1992.02" stroke="#EAE8E9" stroke-width="2.7"/>
<line x1="1711" y1="2011.78" x2="1909" y2="2011.78" stroke="#EAE8E9" stroke-width="2.7"/>
<line x1="1711" y1="2031.54" x2="1909" y2="2031.54" stroke="#EAE8E9" stroke-width="2.7"/>
<line x1="1711" y1="2051.3" x2="1909" y2="2051.3" stroke="#EAE8E9" stroke-width="2.7"/>
<line x1="1757.34" y1="1270" x2="1757.34" y2="2064.6" stroke="#EEECED" stroke-width="1.3"/>
<line x1="1825.21" y1="1270" x2="1825.21" y2="2064.6" stroke="#EEECED" stroke-width="1.3"/>
<line x1="1893.09" y1="1270" x2="1893.09" y2="2064.6" stroke="#EEECED" stroke-width="1.3"/>
<line x1="1723.2" y1="1270" x2="1723.2" y2="2064.6" stroke="#EAE8E9" stroke-width="2.4"/>
<line x1="1791.08" y1="1270" x2="1791.08" y2="2064.6" stroke="#EAE8E9" stroke-width="2.4"/>
<line x1="1858.95" y1="1270" x2="1858.95" y2="2064.6" stroke="#EAE8E9" stroke-width="2.4"/>
<ellipse cx="1737.48" cy="1280.6" rx="7.2" ry="12.6" fill="#B9726F" />
<ellipse cx="1751.05" cy="1280.6" rx="7.5" ry="13.1" fill="#A65A60" />
<ellipse cx="1764.62" cy="1280.6" rx="4.8" ry="7.5" fill="#EDCFA7" />
<ellipse cx="1778.2" cy="1280.6" rx="4.8" ry="7.5" fill="#EDCFA7" />
<ellipse cx="1791.78" cy="1280.6" rx="6.5" ry="11" fill="#D09B88" />
<ellipse cx="1805.35" cy="1280.6" rx="5.7" ry="9.1" fill="#E6C3A0" />
<ellipse cx="1818.93" cy="1280.6" rx="4.8" ry="7.5" fill="#EDCFA7" />
<ellipse cx="1832.5" cy="1280.6" rx="4.8" ry="7.5" fill="#EDCFA7" />
<ellipse cx="1846.08" cy="1280.6" rx="4.2" ry="6.7" fill="#EFD4A9" />
<ellipse cx="1886.8" cy="1280.6" rx="4.2" ry="6.7" fill="#EFD4A9" />
<ellipse cx="1900.38" cy="1280.6" rx="5.3" ry="8.3" fill="#EACBA4" />
<ellipse cx="1737.48" cy="1300.36" rx="4.2" ry="6.7" fill="#EFD4A9" />
<ellipse cx="1751.05" cy="1300.36" rx="5.3" ry="8.3" fill="#EACBA4" />
<ellipse cx="1764.62" cy="1300.36" rx="4.8" ry="7.5" fill="#EDCFA7" />
<ellipse cx="1778.2" cy="1300.36" rx="4.8" ry="7.5" fill="#EDCFA7" />
<ellipse cx="1791.78" cy="1300.36" rx="6.5" ry="11" fill="#D09B88" />
<ellipse cx="1805.35" cy="1300.36" rx="5.7" ry="9.1" fill="#E6C3A0" />
<ellipse cx="1818.93" cy="1300.36" rx="4.8" ry="7.5" fill="#EDCFA7" />
<ellipse cx="1832.5" cy="1300.36" rx="4.2" ry="6.7" fill="#EFD4A9" />
<ellipse cx="1846.08" cy="1300.36" rx="4.2" ry="6.7" fill="#EFD4A9" />
<ellipse cx="1859.65" cy="1300.36" rx="3.7" ry="6" fill="#F0D6AA" />
<ellipse cx="1886.8" cy="1300.36" rx="4.2" ry="6.7" fill="#EFD4A9" />
<ellipse cx="1900.38" cy="1300.36" rx="5.3" ry="8.3" fill="#EACBA4" />
<ellipse cx="1737.48" cy="1320.12" rx="4.8" ry="7.5" fill="#EDCFA7" />
<ellipse cx="1751.05" cy="1320.12" rx="5.3" ry="8.3" fill="#EACBA4" />
<ellipse cx="1764.62" cy="1320.12" rx="4.8" ry="7.5" fill="#EDCFA7" />
<ellipse cx="1778.2" cy="1320.12" rx="4.8" ry="7.5" fill="#EDCFA7" />
<ellipse cx="1791.78" cy="1320.12" rx="6.1" ry="10.1" fill="#DFB596" />
<ellipse cx="1805.35" cy="1320.12" rx="5.7" ry="9.1" fill="#E6C3A0" />
<ellipse cx="1818.93" cy="1320.12" rx="5.3" ry="8.3" fill="#EACBA4" />
<ellipse cx="1832.5" cy="1320.12" rx="4.2" ry="6.7" fill="#EFD4A9" />
<ellipse cx="1846.08" cy="1320.12" rx="4.2" ry="6.7" fill="#EFD4A9" />
<ellipse cx="1886.8" cy="1320.12" rx="4.2" ry="6.7" fill="#EFD4A9" />
<ellipse cx="1900.38" cy="1320.12" rx="5.3" ry="8.3" fill="#EACBA4" />
<ellipse cx="1737.48" cy="1339.88" rx="6.1" ry="10.1" fill="#DFB596" />
<ellipse cx="1751.05" cy="1339.88" rx="4.8" ry="7.5" fill="#EDCFA7" />
<ellipse cx="1764.62" cy="1339.88" rx="4.2" ry="6.7" fill="#EFD4A9" />
<ellipse cx="1778.2" cy="1339.88" rx="3.7" ry="6" fill="#F0D6AA" />
<ellipse cx="1791.78" cy="1339.88" rx="4.8" ry="7.5" fill="#EDCFA7" />
<ellipse cx="1805.35" cy="1339.88" rx="4.8" ry="7.5" fill="#EDCFA7" />
<ellipse cx="1818.93" cy="1339.88" rx="4.2" ry="6.7" fill="#EFD4A9" />
<ellipse cx="1832.5" cy="1339.88" rx="5.7" ry="9.1" fill="#E6C3A0" />
<ellipse cx="1846.08" cy="1339.88" rx="4.2" ry="6.7" fill="#EFD4A9" />
<ellipse cx="1886.8" cy="1339.88" rx="4.2" ry="6.7" fill="#EFD4A9" />
<ellipse cx="1900.38" cy="1339.88" rx="4.8" ry="7.5" fill="#EDCFA7" />
<ellipse cx="1737.48" cy="1359.65" rx="4.8" ry="7.5" fill="#EDCFA7" />
<ellipse cx="1751.05" cy="1359.65" rx="5.3" ry="8.3" fill="#EACBA4" />
<ellipse cx="1764.62" cy="1359.65" rx="4.8" ry="7.5" fill="#EDCFA7" />
<ellipse cx="1778.2" cy="1359.65" rx="5.3" ry="8.3" fill="#EACBA4" />
<ellipse cx="1791.78" cy="1359.65" rx="5.7" ry="9.1" fill="#E6C3A0" />
<ellipse cx="1805.35" cy="1359.65" rx="5.3" ry="8.3" fill="#EACBA4" />
<ellipse cx="1818.93" cy="1359.65" rx="4.8" ry="7.5" fill="#EDCFA7" />
<ellipse cx="1832.5" cy="1359.65" rx="5.3" ry="8.3" fill="#EACBA4" />
<ellipse cx="1846.08" cy="1359.65" rx="4.2" ry="6.7" fill="#EFD4A9" />
<ellipse cx="1886.8" cy="1359.65" rx="4.2" ry="6.7" fill="#EFD4A9" />
<ellipse cx="1900.38" cy="1359.65" rx="5.3" ry="8.3" fill="#EACBA4" />
<ellipse cx="1737.48" cy="1379.41" rx="4.8" ry="7.5" fill="#EDCFA7" />
<ellipse cx="1751.05" cy="1379.41" rx="4.2" ry="6.7" fill="#EFD4A9" />
<ellipse cx="1764.62" cy="1379.41" rx="3.7" ry="6" fill="#F0D6AA" />
<ellipse cx="1778.2" cy="1379.41" rx="4.8" ry="7.5" fill="#EDCFA7" />
<ellipse cx="1791.78" cy="1379.41" rx="6.1" ry="10.1" fill="#DFB596" />
<ellipse cx="1805.35" cy="1379.41" rx="5.3" ry="8.3" fill="#EACBA4" />
<ellipse cx="1818.93" cy="1379.41" rx="4.8" ry="7.5" fill="#EDCFA7" />
<ellipse cx="1832.5" cy="1379.41" rx="5.7" ry="9.1" fill="#E6C3A0" />
<ellipse cx="1846.08" cy="1379.41" rx="3.7" ry="6" fill="#F0D6AA" />
<ellipse cx="1886.8" cy="1379.41" rx="3.7" ry="6" fill="#F0D6AA" />
<ellipse cx="1900.38" cy="1379.41" rx="5.3" ry="8.3" fill="#EACBA4" />
<ellipse cx="1737.48" cy="1399.17" rx="4.2" ry="6.7" fill="#EFD4A9" />
<ellipse cx="1751.05" cy="1399.17" rx="4.8" ry="7.5" fill="#EDCFA7" />
<ellipse cx="1764.62" cy="1399.17" rx="4.2" ry="6.7" fill="#EFD4A9" />
<ellipse cx="1778.2" cy="1399.17" rx="4.8" ry="7.5" fill="#EDCFA7" />
<ellipse cx="1791.78" cy="1399.17" rx="6.1" ry="10.1" fill="#DFB596" />
<ellipse cx="1805.35" cy="1399.17" rx="5.7" ry="9.1" fill="#E6C3A0" />
<ellipse cx="1818.93" cy="1399.17" rx="4.2" ry="6.7" fill="#EFD4A9" />
<ellipse cx="1832.5" cy="1399.17" rx="4.2" ry="6.7" fill="#EFD4A9" />
<ellipse cx="1886.8" cy="1399.17" rx="4.2" ry="6.7" fill="#EFD4A9" />
<ellipse cx="1900.38" cy="1399.17" rx="5.3" ry="8.3" fill="#EACBA4" />
<ellipse cx="1737.48" cy="1418.93" rx="4.8" ry="7.5" fill="#EDCFA7" />
<ellipse cx="1751.05" cy="1418.93" rx="4.8" ry="7.5" fill="#EDCFA7" />
<ellipse cx="1764.62" cy="1418.93" rx="4.8" ry="7.5" fill="#EDCFA7" />
<ellipse cx="1778.2" cy="1418.93" rx="4.8" ry="7.5" fill="#EDCFA7" />
<ellipse cx="1791.78" cy="1418.93" rx="5.7" ry="9.1" fill="#E6C3A0" />
<ellipse cx="1805.35" cy="1418.93" rx="5.3" ry="8.3" fill="#EACBA4" />
<ellipse cx="1818.93" cy="1418.93" rx="4.8" ry="7.5" fill="#EDCFA7" />
<ellipse cx="1832.5" cy="1418.93" rx="4.2" ry="6.7" fill="#EFD4A9" />
<ellipse cx="1846.08" cy="1418.93" rx="3.7" ry="6" fill="#F0D6AA" />
<ellipse cx="1886.8" cy="1418.93" rx="4.2" ry="6.7" fill="#EFD4A9" />
<ellipse cx="1900.38" cy="1418.93" rx="5.7" ry="9.1" fill="#E6C3A0" />
<ellipse cx="1737.48" cy="1438.69" rx="5.7" ry="9.1" fill="#E6C3A0" />
<ellipse cx="1751.05" cy="1438.69" rx="5.3" ry="8.3" fill="#EACBA4" />
<ellipse cx="1764.62" cy="1438.69" rx="5.3" ry="8.3" fill="#EACBA4" />
<ellipse cx="1778.2" cy="1438.69" rx="4.2" ry="6.7" fill="#EFD4A9" />
<ellipse cx="1791.78" cy="1438.69" rx="5.3" ry="8.3" fill="#EACBA4" />
<ellipse cx="1805.35" cy="1438.69" rx="4.8" ry="7.5" fill="#EDCFA7" />
<ellipse cx="1818.93" cy="1438.69" rx="3.7" ry="6" fill="#F0D6AA" />
<ellipse cx="1832.5" cy="1438.69" rx="4.2" ry="6.7" fill="#EFD4A9" />
<ellipse cx="1859.65" cy="1438.69" rx="3.7" ry="6" fill="#F0D6AA" />
<ellipse cx="1886.8" cy="1438.69" rx="4.2" ry="6.7" fill="#EFD4A9" />
<ellipse cx="1900.38" cy="1438.69" rx="4.2" ry="6.7" fill="#EFD4A9" />
<ellipse cx="1737.48" cy="1458.45" rx="5.3" ry="8.3" fill="#EACBA4" />
<ellipse cx="1751.05" cy="1458.45" rx="4.8" ry="7.5" fill="#EDCFA7" />
<ellipse cx="1764.62" cy="1458.45" rx="4.2" ry="6.7" fill="#EFD4A9" />
<ellipse cx="1778.2" cy="1458.45" rx="4.2" ry="6.7" fill="#EFD4A9" />
<ellipse cx="1791.78" cy="1458.45" rx="5.3" ry="8.3" fill="#EACBA4" />
<ellipse cx="1805.35" cy="1458.45" rx="5.3" ry="8.3" fill="#EACBA4" />
<ellipse cx="1818.93" cy="1458.45" rx="4.8" ry="7.5" fill="#EDCFA7" />
<ellipse cx="1832.5" cy="1458.45" rx="4.8" ry="7.5" fill="#EDCFA7" />
<ellipse cx="1846.08" cy="1458.45" rx="4.2" ry="6.7" fill="#EFD4A9" />
<ellipse cx="1859.65" cy="1458.45" rx="3.7" ry="6" fill="#F0D6AA" />
<ellipse cx="1886.8" cy="1458.45" rx="4.2" ry="6.7" fill="#EFD4A9" />
<ellipse cx="1900.38" cy="1458.45" rx="5.7" ry="9.1" fill="#E6C3A0" />
<ellipse cx="1737.48" cy="1478.22" rx="4.2" ry="6.7" fill="#EFD4A9" />
<ellipse cx="1751.05" cy="1478.22" rx="5.3" ry="8.3" fill="#EACBA4" />
<ellipse cx="1764.62" cy="1478.22" rx="4.8" ry="7.5" fill="#EDCFA7" />
<ellipse cx="1778.2" cy="1478.22" rx="4.8" ry="7.5" fill="#EDCFA7" />
<ellipse cx="1791.78" cy="1478.22" rx="5.7" ry="9.1" fill="#E6C3A0" />
<ellipse cx="1805.35" cy="1478.22" rx="5.3" ry="8.3" fill="#EACBA4" />
<ellipse cx="1818.93" cy="1478.22" rx="4.8" ry="7.5" fill="#EDCFA7" />
<ellipse cx="1832.5" cy="1478.22" rx="3.7" ry="6" fill="#F0D6AA" />
<ellipse cx="1846.08" cy="1478.22" rx="4.2" ry="6.7" fill="#EFD4A9" />
<ellipse cx="1886.8" cy="1478.22" rx="4.2" ry="6.7" fill="#EFD4A9" />
<ellipse cx="1900.38" cy="1478.22" rx="4.8" ry="7.5" fill="#EDCFA7" />
<ellipse cx="1737.48" cy="1497.98" rx="4.2" ry="6.7" fill="#EFD4A9" />
<ellipse cx="1751.05" cy="1497.98" rx="4.8" ry="7.5" fill="#EDCFA7" />
<ellipse cx="1764.62" cy="1497.98" rx="4.2" ry="6.7" fill="#EFD4A9" />
<ellipse cx="1778.2" cy="1497.98" rx="4.2" ry="6.7" fill="#EFD4A9" />
<ellipse cx="1791.78" cy="1497.98" rx="5.3" ry="8.3" fill="#EACBA4" />
<ellipse cx="1805.35" cy="1497.98" rx="4.8" ry="7.5" fill="#EDCFA7" />
<ellipse cx="1818.93" cy="1497.98" rx="4.8" ry="7.5" fill="#EDCFA7" />
<ellipse cx="1832.5" cy="1497.98" rx="5.3" ry="8.3" fill="#EACBA4" />
<ellipse cx="1846.08" cy="1497.98" rx="4.2" ry="6.7" fill="#EFD4A9" />
<ellipse cx="1886.8" cy="1497.98" rx="4.2" ry="6.7" fill="#EFD4A9" />
<ellipse cx="1900.38" cy="1497.98" rx="5.3" ry="8.3" fill="#EACBA4" />
<ellipse cx="1737.48" cy="1517.74" rx="4.2" ry="6.7" fill="#EFD4A9" />
<ellipse cx="1751.05" cy="1517.74" rx="4.8" ry="7.5" fill="#EDCFA7" />
<ellipse cx="1764.62" cy="1517.74" rx="4.2" ry="6.7" fill="#EFD4A9" />
<ellipse cx="1778.2" cy="1517.74" rx="4.2" ry="6.7" fill="#EFD4A9" />
<ellipse cx="1791.78" cy="1517.74" rx="5.3" ry="8.3" fill="#EACBA4" />
<ellipse cx="1805.35" cy="1517.74" rx="4.8" ry="7.5" fill="#EDCFA7" />
<ellipse cx="1818.93" cy="1517.74" rx="4.8" ry="7.5" fill="#EDCFA7" />
<ellipse cx="1832.5" cy="1517.74" rx="4.2" ry="6.7" fill="#EFD4A9" />
<ellipse cx="1846.08" cy="1517.74" rx="4.2" ry="6.7" fill="#EFD4A9" />
<ellipse cx="1886.8" cy="1517.74" rx="4.2" ry="6.7" fill="#EFD4A9" />
<ellipse cx="1900.38" cy="1517.74" rx="5.3" ry="8.3" fill="#EACBA4" />
<ellipse cx="1723.9" cy="1537.5" rx="3.7" ry="6" fill="#F0D6AA" />
<ellipse cx="1737.48" cy="1537.5" rx="5.7" ry="9.1" fill="#E6C3A0" />
<ellipse cx="1751.05" cy="1537.5" rx="5.3" ry="8.3" fill="#EACBA4" />
<ellipse cx="1764.62" cy="1537.5" rx="5.3" ry="8.3" fill="#EACBA4" />
<ellipse cx="1778.2" cy="1537.5" rx="3.7" ry="6" fill="#F0D6AA" />
<ellipse cx="1791.78" cy="1537.5" rx="4.8" ry="7.5" fill="#EDCFA7" />
<ellipse cx="1805.35" cy="1537.5" rx="4.2" ry="6.7" fill="#EFD4A9" />
<ellipse cx="1818.93" cy="1537.5" rx="3.7" ry="6" fill="#F0D6AA" />
<ellipse cx="1832.5" cy="1537.5" rx="4.2" ry="6.7" fill="#EFD4A9" />
<ellipse cx="1846.08" cy="1537.5" rx="4.2" ry="6.7" fill="#EFD4A9" />
<ellipse cx="1886.8" cy="1537.5" rx="4.2" ry="6.7" fill="#EFD4A9" />
<ellipse cx="1900.38" cy="1537.5" rx="4.2" ry="6.7" fill="#EFD4A9" />
<ellipse cx="1723.9" cy="1557.26" rx="3.7" ry="6" fill="#F0D6AA" />
<ellipse cx="1737.48" cy="1557.26" rx="4.8" ry="7.5" fill="#EDCFA7" />
<ellipse cx="1751.05" cy="1557.26" rx="5.7" ry="9.1" fill="#E6C3A0" />
<ellipse cx="1764.62" cy="1557.26" rx="4.8" ry="7.5" fill="#EDCFA7" />
<ellipse cx="1778.2" cy="1557.26" rx="4.8" ry="7.5" fill="#EDCFA7" />
<ellipse cx="1791.78" cy="1557.26" rx="5.7" ry="9.1" fill="#E6C3A0" />
<ellipse cx="1805.35" cy="1557.26" rx="4.8" ry="7.5" fill="#EDCFA7" />
<ellipse cx="1818.93" cy="1557.26" rx="4.8" ry="7.5" fill="#EDCFA7" />
<ellipse cx="1832.5" cy="1557.26" rx="4.8" ry="7.5" fill="#EDCFA7" />
<ellipse cx="1846.08" cy="1557.26" rx="4.2" ry="6.7" fill="#EFD4A9" />
<ellipse cx="1886.8" cy="1557.26" rx="3.7" ry="6" fill="#F0D6AA" />
<ellipse cx="1900.38" cy="1557.26" rx="5.3" ry="8.3" fill="#EACBA4" />
<ellipse cx="1737.48" cy="1577.02" rx="4.8" ry="7.5" fill="#EDCFA7" />
<ellipse cx="1751.05" cy="1577.02" rx="4.8" ry="7.5" fill="#EDCFA7" />
<ellipse cx="1764.62" cy="1577.02" rx="4.8" ry="7.5" fill="#EDCFA7" />
<ellipse cx="1778.2" cy="1577.02" rx="4.8" ry="7.5" fill="#EDCFA7" />
<ellipse cx="1791.78" cy="1577.02" rx="5.7" ry="9.1" fill="#E6C3A0" />
<ellipse cx="1805.35" cy="1577.02" rx="4.8" ry="7.5" fill="#EDCFA7" />
<ellipse cx="1818.93" cy="1577.02" rx="4.8" ry="7.5" fill="#EDCFA7" />
<ellipse cx="1832.5" cy="1577.02" rx="4.8" ry="7.5" fill="#EDCFA7" />
<ellipse cx="1846.08" cy="1577.02" rx="4.2" ry="6.7" fill="#EFD4A9" />
<ellipse cx="1886.8" cy="1577.02" rx="4.2" ry="6.7" fill="#EFD4A9" />
<ellipse cx="1900.38" cy="1577.02" rx="5.7" ry="9.1" fill="#E6C3A0" />
<ellipse cx="1737.48" cy="1596.78" rx="4.2" ry="6.7" fill="#EFD4A9" />
<ellipse cx="1751.05" cy="1596.78" rx="3.7" ry="6" fill="#F0D6AA" />
<ellipse cx="1764.62" cy="1596.78" rx="4.2" ry="6.7" fill="#EFD4A9" />
<ellipse cx="1778.2" cy="1596.78" rx="4.8" ry="7.5" fill="#EDCFA7" />
<ellipse cx="1791.78" cy="1596.78" rx="6.1" ry="10.1" fill="#DFB596" />
<ellipse cx="1805.35" cy="1596.78" rx="5.7" ry="9.1" fill="#E6C3A0" />
<ellipse cx="1818.93" cy="1596.78" rx="5.3" ry="8.3" fill="#EACBA4" />
<ellipse cx="1832.5" cy="1596.78" rx="5.7" ry="9.1" fill="#E6C3A0" />
<ellipse cx="1846.08" cy="1596.78" rx="3.7" ry="6" fill="#F0D6AA" />
<ellipse cx="1886.8" cy="1596.78" rx="4.2" ry="6.7" fill="#EFD4A9" />
<ellipse cx="1900.38" cy="1596.78" rx="5.3" ry="8.3" fill="#EACBA4" />
<ellipse cx="1737.48" cy="1616.55" rx="5.7" ry="9.1" fill="#E6C3A0" />
<ellipse cx="1751.05" cy="1616.55" rx="5.3" ry="8.3" fill="#EACBA4" />
<ellipse cx="1764.62" cy="1616.55" rx="4.8" ry="7.5" fill="#EDCFA7" />
<ellipse cx="1778.2" cy="1616.55" rx="4.8" ry="7.5" fill="#EDCFA7" />
<ellipse cx="1791.78" cy="1616.55" rx="5.3" ry="8.3" fill="#EACBA4" />
<ellipse cx="1805.35" cy="1616.55" rx="5.3" ry="8.3" fill="#EACBA4" />
<ellipse cx="1818.93" cy="1616.55" rx="4.2" ry="6.7" fill="#EFD4A9" />
<ellipse cx="1832.5" cy="1616.55" rx="4.8" ry="7.5" fill="#EDCFA7" />
<ellipse cx="1846.08" cy="1616.55" rx="3.7" ry="6" fill="#F0D6AA" />
<ellipse cx="1900.38" cy="1616.55" rx="4.2" ry="6.7" fill="#EFD4A9" />
<ellipse cx="1737.48" cy="1636.31" rx="4.2" ry="6.7" fill="#EFD4A9" />
<ellipse cx="1751.05" cy="1636.31" rx="4.8" ry="7.5" fill="#EDCFA7" />
<ellipse cx="1764.62" cy="1636.31" rx="4.8" ry="7.5" fill="#EDCFA7" />
<ellipse cx="1778.2" cy="1636.31" rx="4.8" ry="7.5" fill="#EDCFA7" />
<ellipse cx="1791.78" cy="1636.31" rx="5.7" ry="9.1" fill="#E6C3A0" />
<ellipse cx="1805.35" cy="1636.31" rx="5.3" ry="8.3" fill="#EACBA4" />
<ellipse cx="1818.93" cy="1636.31" rx="4.8" ry="7.5" fill="#EDCFA7" />
<ellipse cx="1832.5" cy="1636.31" rx="6.1" ry="10.1" fill="#DFB596" />
<ellipse cx="1846.08" cy="1636.31" rx="4.2" ry="6.7" fill="#EFD4A9" />
<ellipse cx="1886.8" cy="1636.31" rx="4.2" ry="6.7" fill="#EFD4A9" />
<ellipse cx="1900.38" cy="1636.31" rx="5.7" ry="9.1" fill="#E6C3A0" />
<ellipse cx="1737.48" cy="1656.07" rx="4.8" ry="7.5" fill="#EDCFA7" />
<ellipse cx="1751.05" cy="1656.07" rx="4.8" ry="7.5" fill="#EDCFA7" />
<ellipse cx="1764.62" cy="1656.07" rx="4.2" ry="6.7" fill="#EFD4A9" />
<ellipse cx="1778.2" cy="1656.07" rx="4.2" ry="6.7" fill="#EFD4A9" />
<ellipse cx="1791.78" cy="1656.07" rx="5.3" ry="8.3" fill="#EACBA4" />
<ellipse cx="1805.35" cy="1656.07" rx="4.8" ry="7.5" fill="#EDCFA7" />
<ellipse cx="1818.93" cy="1656.07" rx="4.8" ry="7.5" fill="#EDCFA7" />
<ellipse cx="1832.5" cy="1656.07" rx="5.3" ry="8.3" fill="#EACBA4" />
<ellipse cx="1846.08" cy="1656.07" rx="4.2" ry="6.7" fill="#EFD4A9" />
<ellipse cx="1886.8" cy="1656.07" rx="4.2" ry="6.7" fill="#EFD4A9" />
<ellipse cx="1900.38" cy="1656.07" rx="6.1" ry="10.1" fill="#DFB596" />
<ellipse cx="1737.48" cy="1675.83" rx="4.2" ry="6.7" fill="#EFD4A9" />
<ellipse cx="1751.05" cy="1675.83" rx="5.7" ry="9.1" fill="#E6C3A0" />
<ellipse cx="1764.62" cy="1675.83" rx="4.2" ry="6.7" fill="#EFD4A9" />
<ellipse cx="1778.2" cy="1675.83" rx="4.8" ry="7.5" fill="#EDCFA7" />
<ellipse cx="1791.78" cy="1675.83" rx="5.7" ry="9.1" fill="#E6C3A0" />
<ellipse cx="1805.35" cy="1675.83" rx="5.3" ry="8.3" fill="#EACBA4" />
<ellipse cx="1818.93" cy="1675.83" rx="4.8" ry="7.5" fill="#EDCFA7" />
<ellipse cx="1832.5" cy="1675.83" rx="4.2" ry="6.7" fill="#EFD4A9" />
<ellipse cx="1846.08" cy="1675.83" rx="3.7" ry="6" fill="#F0D6AA" />
<ellipse cx="1886.8" cy="1675.83" rx="4.2" ry="6.7" fill="#EFD4A9" />
<ellipse cx="1900.38" cy="1675.83" rx="5.7" ry="9.1" fill="#E6C3A0" />
<ellipse cx="1737.48" cy="1695.59" rx="4.8" ry="7.5" fill="#EDCFA7" />
<ellipse cx="1751.05" cy="1695.59" rx="4.8" ry="7.5" fill="#EDCFA7" />
<ellipse cx="1764.62" cy="1695.59" rx="4.8" ry="7.5" fill="#EDCFA7" />
<ellipse cx="1778.2" cy="1695.59" rx="4.8" ry="7.5" fill="#EDCFA7" />
<ellipse cx="1791.78" cy="1695.59" rx="5.7" ry="9.1" fill="#E6C3A0" />
<ellipse cx="1805.35" cy="1695.59" rx="5.3" ry="8.3" fill="#EACBA4" />
<ellipse cx="1818.93" cy="1695.59" rx="4.8" ry="7.5" fill="#EDCFA7" />
<ellipse cx="1832.5" cy="1695.59" rx="4.2" ry="6.7" fill="#EFD4A9" />
<ellipse cx="1859.65" cy="1695.59" rx="3.7" ry="6" fill="#F0D6AA" />
<ellipse cx="1886.8" cy="1695.59" rx="4.8" ry="7.5" fill="#EDCFA7" />
<ellipse cx="1900.38" cy="1695.59" rx="5.3" ry="8.3" fill="#EACBA4" />
<ellipse cx="1737.48" cy="1715.35" rx="4.8" ry="7.5" fill="#EDCFA7" />
<ellipse cx="1751.05" cy="1715.35" rx="5.3" ry="8.3" fill="#EACBA4" />
<ellipse cx="1764.62" cy="1715.35" rx="4.8" ry="7.5" fill="#EDCFA7" />
<ellipse cx="1778.2" cy="1715.35" rx="4.8" ry="7.5" fill="#EDCFA7" />
<ellipse cx="1791.78" cy="1715.35" rx="5.7" ry="9.1" fill="#E6C3A0" />
<ellipse cx="1805.35" cy="1715.35" rx="4.8" ry="7.5" fill="#EDCFA7" />
<ellipse cx="1818.93" cy="1715.35" rx="3.7" ry="6" fill="#F0D6AA" />
<ellipse cx="1832.5" cy="1715.35" rx="4.2" ry="6.7" fill="#EFD4A9" />
<ellipse cx="1886.8" cy="1715.35" rx="3.7" ry="6" fill="#F0D6AA" />
<ellipse cx="1900.38" cy="1715.35" rx="4.8" ry="7.5" fill="#EDCFA7" />
<ellipse cx="1737.48" cy="1735.12" rx="4.8" ry="7.5" fill="#EDCFA7" />
<ellipse cx="1751.05" cy="1735.12" rx="5.7" ry="9.1" fill="#E6C3A0" />
<ellipse cx="1764.62" cy="1735.12" rx="4.8" ry="7.5" fill="#EDCFA7" />
<ellipse cx="1778.2" cy="1735.12" rx="4.2" ry="6.7" fill="#EFD4A9" />
<ellipse cx="1791.78" cy="1735.12" rx="4.8" ry="7.5" fill="#EDCFA7" />
<ellipse cx="1805.35" cy="1735.12" rx="4.2" ry="6.7" fill="#EFD4A9" />
<ellipse cx="1818.93" cy="1735.12" rx="3.7" ry="6" fill="#F0D6AA" />
<ellipse cx="1846.08" cy="1735.12" rx="3.7" ry="6" fill="#F0D6AA" />
<ellipse cx="1859.65" cy="1735.12" rx="3.7" ry="6" fill="#F0D6AA" />
<ellipse cx="1886.8" cy="1735.12" rx="4.2" ry="6.7" fill="#EFD4A9" />
<ellipse cx="1900.38" cy="1735.12" rx="4.2" ry="6.7" fill="#EFD4A9" />
<ellipse cx="1737.48" cy="1754.88" rx="4.2" ry="6.7" fill="#EFD4A9" />
<ellipse cx="1751.05" cy="1754.88" rx="5.7" ry="9.1" fill="#E6C3A0" />
<ellipse cx="1764.62" cy="1754.88" rx="4.8" ry="7.5" fill="#EDCFA7" />
<ellipse cx="1778.2" cy="1754.88" rx="4.8" ry="7.5" fill="#EDCFA7" />
<ellipse cx="1791.78" cy="1754.88" rx="5.3" ry="8.3" fill="#EACBA4" />
<ellipse cx="1805.35" cy="1754.88" rx="4.8" ry="7.5" fill="#EDCFA7" />
<ellipse cx="1832.5" cy="1754.88" rx="4.8" ry="7.5" fill="#EDCFA7" />
<ellipse cx="1846.08" cy="1754.88" rx="4.2" ry="6.7" fill="#EFD4A9" />
<ellipse cx="1886.8" cy="1754.88" rx="4.2" ry="6.7" fill="#EFD4A9" />
<ellipse cx="1900.38" cy="1754.88" rx="4.8" ry="7.5" fill="#EDCFA7" />
<ellipse cx="1737.48" cy="1774.64" rx="4.8" ry="7.5" fill="#EDCFA7" />
<ellipse cx="1751.05" cy="1774.64" rx="4.8" ry="7.5" fill="#EDCFA7" />
<ellipse cx="1764.62" cy="1774.64" rx="4.2" ry="6.7" fill="#EFD4A9" />
<ellipse cx="1778.2" cy="1774.64" rx="4.2" ry="6.7" fill="#EFD4A9" />
<ellipse cx="1791.78" cy="1774.64" rx="5.7" ry="9.1" fill="#E6C3A0" />
<ellipse cx="1805.35" cy="1774.64" rx="5.3" ry="8.3" fill="#EACBA4" />
<ellipse cx="1818.93" cy="1774.64" rx="5.3" ry="8.3" fill="#EACBA4" />
<ellipse cx="1832.5" cy="1774.64" rx="4.2" ry="6.7" fill="#EFD4A9" />
<ellipse cx="1846.08" cy="1774.64" rx="3.7" ry="6" fill="#F0D6AA" />
<ellipse cx="1886.8" cy="1774.64" rx="4.2" ry="6.7" fill="#EFD4A9" />
<ellipse cx="1900.38" cy="1774.64" rx="5.3" ry="8.3" fill="#EACBA4" />
<ellipse cx="1737.48" cy="1794.4" rx="4.8" ry="7.5" fill="#EDCFA7" />
<ellipse cx="1751.05" cy="1794.4" rx="4.8" ry="7.5" fill="#EDCFA7" />
<ellipse cx="1764.62" cy="1794.4" rx="4.8" ry="7.5" fill="#EDCFA7" />
<ellipse cx="1778.2" cy="1794.4" rx="4.8" ry="7.5" fill="#EDCFA7" />
<ellipse cx="1791.78" cy="1794.4" rx="5.3" ry="8.3" fill="#EACBA4" />
<ellipse cx="1805.35" cy="1794.4" rx="4.8" ry="7.5" fill="#EDCFA7" />
<ellipse cx="1818.93" cy="1794.4" rx="4.8" ry="7.5" fill="#EDCFA7" />
<ellipse cx="1832.5" cy="1794.4" rx="4.8" ry="7.5" fill="#EDCFA7" />
<ellipse cx="1846.08" cy="1794.4" rx="4.2" ry="6.7" fill="#EFD4A9" />
<ellipse cx="1886.8" cy="1794.4" rx="4.2" ry="6.7" fill="#EFD4A9" />
<ellipse cx="1900.38" cy="1794.4" rx="4.8" ry="7.5" fill="#EDCFA7" />
<ellipse cx="1737.48" cy="1814.16" rx="3.7" ry="6" fill="#F0D6AA" />
<ellipse cx="1751.05" cy="1814.16" rx="4.2" ry="6.7" fill="#EFD4A9" />
<ellipse cx="1764.62" cy="1814.16" rx="4.2" ry="6.7" fill="#EFD4A9" />
<ellipse cx="1778.2" cy="1814.16" rx="4.2" ry="6.7" fill="#EFD4A9" />
<ellipse cx="1791.78" cy="1814.16" rx="5.3" ry="8.3" fill="#EACBA4" />
<ellipse cx="1805.35" cy="1814.16" rx="5.3" ry="8.3" fill="#EACBA4" />
<ellipse cx="1818.93" cy="1814.16" rx="4.8" ry="7.5" fill="#EDCFA7" />
<ellipse cx="1832.5" cy="1814.16" rx="4.8" ry="7.5" fill="#EDCFA7" />
<ellipse cx="1846.08" cy="1814.16" rx="4.2" ry="6.7" fill="#EFD4A9" />
<ellipse cx="1886.8" cy="1814.16" rx="4.2" ry="6.7" fill="#EFD4A9" />
<ellipse cx="1900.38" cy="1814.16" rx="5.7" ry="9.1" fill="#E6C3A0" />
<ellipse cx="1737.48" cy="1833.92" rx="4.8" ry="7.5" fill="#EDCFA7" />
<ellipse cx="1751.05" cy="1833.92" rx="5.7" ry="9.1" fill="#E6C3A0" />
<ellipse cx="1764.62" cy="1833.92" rx="4.8" ry="7.5" fill="#EDCFA7" />
<ellipse cx="1778.2" cy="1833.92" rx="4.2" ry="6.7" fill="#EFD4A9" />
<ellipse cx="1791.78" cy="1833.92" rx="5.3" ry="8.3" fill="#EACBA4" />
<ellipse cx="1805.35" cy="1833.92" rx="4.8" ry="7.5" fill="#EDCFA7" />
<ellipse cx="1818.93" cy="1833.92" rx="4.2" ry="6.7" fill="#EFD4A9" />
<ellipse cx="1846.08" cy="1833.92" rx="3.7" ry="6" fill="#F0D6AA" />
<ellipse cx="1886.8" cy="1833.92" rx="4.2" ry="6.7" fill="#EFD4A9" />
<ellipse cx="1900.38" cy="1833.92" rx="4.8" ry="7.5" fill="#EDCFA7" />
<ellipse cx="1737.48" cy="1853.68" rx="4.8" ry="7.5" fill="#EDCFA7" />
<ellipse cx="1751.05" cy="1853.68" rx="5.3" ry="8.3" fill="#EACBA4" />
<ellipse cx="1764.62" cy="1853.68" rx="5.3" ry="8.3" fill="#EACBA4" />
<ellipse cx="1778.2" cy="1853.68" rx="4.2" ry="6.7" fill="#EFD4A9" />
<ellipse cx="1791.78" cy="1853.68" rx="4.8" ry="7.5" fill="#EDCFA7" />
<ellipse cx="1805.35" cy="1853.68" rx="4.2" ry="6.7" fill="#EFD4A9" />
<ellipse cx="1818.93" cy="1853.68" rx="3.7" ry="6" fill="#F0D6AA" />
<ellipse cx="1832.5" cy="1853.68" rx="4.8" ry="7.5" fill="#EDCFA7" />
<ellipse cx="1886.8" cy="1853.68" rx="4.2" ry="6.7" fill="#EFD4A9" />
<ellipse cx="1900.38" cy="1853.68" rx="5.3" ry="8.3" fill="#EACBA4" />
<ellipse cx="1737.48" cy="1873.45" rx="4.8" ry="7.5" fill="#EDCFA7" />
<ellipse cx="1751.05" cy="1873.45" rx="4.8" ry="7.5" fill="#EDCFA7" />
<ellipse cx="1764.62" cy="1873.45" rx="4.2" ry="6.7" fill="#EFD4A9" />
<ellipse cx="1778.2" cy="1873.45" rx="3.7" ry="6" fill="#F0D6AA" />
<ellipse cx="1791.78" cy="1873.45" rx="5.3" ry="8.3" fill="#EACBA4" />
<ellipse cx="1805.35" cy="1873.45" rx="5.3" ry="8.3" fill="#EACBA4" />
<ellipse cx="1818.93" cy="1873.45" rx="3.7" ry="6" fill="#F0D6AA" />
<ellipse cx="1832.5" cy="1873.45" rx="5.3" ry="8.3" fill="#EACBA4" />
<ellipse cx="1846.08" cy="1873.45" rx="4.2" ry="6.7" fill="#EFD4A9" />
<ellipse cx="1859.65" cy="1873.45" rx="3.7" ry="6" fill="#F0D6AA" />
<ellipse cx="1886.8" cy="1873.45" rx="4.2" ry="6.7" fill="#EFD4A9" />
<ellipse cx="1900.38" cy="1873.45" rx="5.7" ry="9.1" fill="#E6C3A0" />
<ellipse cx="1737.48" cy="1893.21" rx="4.2" ry="6.7" fill="#EFD4A9" />
<ellipse cx="1751.05" cy="1893.21" rx="4.2" ry="6.7" fill="#EFD4A9" />
<ellipse cx="1764.62" cy="1893.21" rx="4.8" ry="7.5" fill="#EDCFA7" />
<ellipse cx="1778.2" cy="1893.21" rx="4.2" ry="6.7" fill="#EFD4A9" />
<ellipse cx="1791.78" cy="1893.21" rx="4.8" ry="7.5" fill="#EDCFA7" />
<ellipse cx="1805.35" cy="1893.21" rx="4.8" ry="7.5" fill="#EDCFA7" />
<ellipse cx="1832.5" cy="1893.21" rx="4.2" ry="6.7" fill="#EFD4A9" />
<ellipse cx="1886.8" cy="1893.21" rx="4.2" ry="6.7" fill="#EFD4A9" />
<ellipse cx="1900.38" cy="1893.21" rx="5.7" ry="9.1" fill="#E6C3A0" />
<ellipse cx="1737.48" cy="1912.97" rx="4.2" ry="6.7" fill="#EFD4A9" />
<ellipse cx="1751.05" cy="1912.97" rx="4.8" ry="7.5" fill="#EDCFA7" />
<ellipse cx="1764.62" cy="1912.97" rx="5.3" ry="8.3" fill="#EACBA4" />
<ellipse cx="1791.78" cy="1912.97" rx="4.8" ry="7.5" fill="#EDCFA7" />
<ellipse cx="1805.35" cy="1912.97" rx="4.8" ry="7.5" fill="#EDCFA7" />
<ellipse cx="1832.5" cy="1912.97" rx="4.2" ry="6.7" fill="#EFD4A9" />
<ellipse cx="1886.8" cy="1912.97" rx="4.8" ry="7.5" fill="#EDCFA7" />
<ellipse cx="1900.38" cy="1912.97" rx="5.7" ry="9.1" fill="#E6C3A0" />
<ellipse cx="1737.48" cy="1932.73" rx="5.3" ry="8.3" fill="#EACBA4" />
<ellipse cx="1751.05" cy="1932.73" rx="4.8" ry="7.5" fill="#EDCFA7" />
<ellipse cx="1764.62" cy="1932.73" rx="4.8" ry="7.5" fill="#EDCFA7" />
<ellipse cx="1778.2" cy="1932.73" rx="4.2" ry="6.7" fill="#EFD4A9" />
<ellipse cx="1791.78" cy="1932.73" rx="4.8" ry="7.5" fill="#EDCFA7" />
<ellipse cx="1805.35" cy="1932.73" rx="4.8" ry="7.5" fill="#EDCFA7" />
<ellipse cx="1818.93" cy="1932.73" rx="4.8" ry="7.5" fill="#EDCFA7" />
<ellipse cx="1886.8" cy="1932.73" rx="4.2" ry="6.7" fill="#EFD4A9" />
<ellipse cx="1900.38" cy="1932.73" rx="5.3" ry="8.3" fill="#EACBA4" />
<ellipse cx="1737.48" cy="1952.49" rx="4.2" ry="6.7" fill="#EFD4A9" />
<ellipse cx="1751.05" cy="1952.49" rx="5.7" ry="9.1" fill="#E6C3A0" />
<ellipse cx="1764.62" cy="1952.49" rx="4.2" ry="6.7" fill="#EFD4A9" />
<ellipse cx="1778.2" cy="1952.49" rx="4.2" ry="6.7" fill="#EFD4A9" />
<ellipse cx="1791.78" cy="1952.49" rx="5.7" ry="9.1" fill="#E6C3A0" />
<ellipse cx="1805.35" cy="1952.49" rx="4.8" ry="7.5" fill="#EDCFA7" />
<ellipse cx="1818.93" cy="1952.49" rx="3.7" ry="6" fill="#F0D6AA" />
<ellipse cx="1832.5" cy="1952.49" rx="3.7" ry="6" fill="#F0D6AA" />
<ellipse cx="1846.08" cy="1952.49" rx="4.2" ry="6.7" fill="#EFD4A9" />
<ellipse cx="1886.8" cy="1952.49" rx="4.8" ry="7.5" fill="#EDCFA7" />
<ellipse cx="1900.38" cy="1952.49" rx="4.8" ry="7.5" fill="#EDCFA7" />
<ellipse cx="1737.48" cy="1972.25" rx="4.8" ry="7.5" fill="#EDCFA7" />
<ellipse cx="1751.05" cy="1972.25" rx="4.8" ry="7.5" fill="#EDCFA7" />
<ellipse cx="1764.62" cy="1972.25" rx="4.8" ry="7.5" fill="#EDCFA7" />
<ellipse cx="1778.2" cy="1972.25" rx="4.8" ry="7.5" fill="#EDCFA7" />
<ellipse cx="1791.78" cy="1972.25" rx="5.3" ry="8.3" fill="#EACBA4" />
<ellipse cx="1805.35" cy="1972.25" rx="5.3" ry="8.3" fill="#EACBA4" />
<ellipse cx="1818.93" cy="1972.25" rx="4.8" ry="7.5" fill="#EDCFA7" />
<ellipse cx="1832.5" cy="1972.25" rx="4.2" ry="6.7" fill="#EFD4A9" />
<ellipse cx="1886.8" cy="1972.25" rx="4.2" ry="6.7" fill="#EFD4A9" />
<ellipse cx="1900.38" cy="1972.25" rx="4.8" ry="7.5" fill="#EDCFA7" />
<ellipse cx="1737.48" cy="1992.02" rx="4.2" ry="6.7" fill="#EFD4A9" />
<ellipse cx="1751.05" cy="1992.02" rx="5.7" ry="9.1" fill="#E6C3A0" />
<ellipse cx="1764.62" cy="1992.02" rx="4.2" ry="6.7" fill="#EFD4A9" />
<ellipse cx="1778.2" cy="1992.02" rx="4.2" ry="6.7" fill="#EFD4A9" />
<ellipse cx="1791.78" cy="1992.02" rx="4.8" ry="7.5" fill="#EDCFA7" />
<ellipse cx="1805.35" cy="1992.02" rx="4.8" ry="7.5" fill="#EDCFA7" />
<ellipse cx="1818.93" cy="1992.02" rx="4.2" ry="6.7" fill="#EFD4A9" />
<ellipse cx="1832.5" cy="1992.02" rx="4.8" ry="7.5" fill="#EDCFA7" />
<ellipse cx="1846.08" cy="1992.02" rx="4.2" ry="6.7" fill="#EFD4A9" />
<ellipse cx="1900.38" cy="1992.02" rx="4.8" ry="7.5" fill="#EDCFA7" />
<ellipse cx="1737.48" cy="2011.78" rx="4.8" ry="7.5" fill="#EDCFA7" />
<ellipse cx="1751.05" cy="2011.78" rx="4.8" ry="7.5" fill="#EDCFA7" />
<ellipse cx="1764.62" cy="2011.78" rx="4.8" ry="7.5" fill="#EDCFA7" />
<ellipse cx="1778.2" cy="2011.78" rx="4.2" ry="6.7" fill="#EFD4A9" />
<ellipse cx="1791.78" cy="2011.78" rx="4.8" ry="7.5" fill="#EDCFA7" />
<ellipse cx="1805.35" cy="2011.78" rx="4.8" ry="7.5" fill="#EDCFA7" />
<ellipse cx="1818.93" cy="2011.78" rx="4.2" ry="6.7" fill="#EFD4A9" />
<ellipse cx="1832.5" cy="2011.78" rx="5.3" ry="8.3" fill="#EACBA4" />
<ellipse cx="1846.08" cy="2011.78" rx="4.2" ry="6.7" fill="#EFD4A9" />
<ellipse cx="1886.8" cy="2011.78" rx="4.2" ry="6.7" fill="#EFD4A9" />
<ellipse cx="1900.38" cy="2011.78" rx="4.8" ry="7.5" fill="#EDCFA7" />
<ellipse cx="1737.48" cy="2031.54" rx="4.8" ry="7.5" fill="#EDCFA7" />
<ellipse cx="1751.05" cy="2031.54" rx="5.3" ry="8.3" fill="#EACBA4" />
<ellipse cx="1764.62" cy="2031.54" rx="5.3" ry="8.3" fill="#EACBA4" />
<ellipse cx="1778.2" cy="2031.54" rx="4.2" ry="6.7" fill="#EFD4A9" />
<ellipse cx="1791.78" cy="2031.54" rx="4.8" ry="7.5" fill="#EDCFA7" />
<ellipse cx="1805.35" cy="2031.54" rx="4.2" ry="6.7" fill="#EFD4A9" />
<ellipse cx="1818.93" cy="2031.54" rx="4.2" ry="6.7" fill="#EFD4A9" />
<ellipse cx="1832.5" cy="2031.54" rx="4.2" ry="6.7" fill="#EFD4A9" />
<ellipse cx="1846.08" cy="2031.54" rx="3.7" ry="6" fill="#F0D6AA" />
<ellipse cx="1886.8" cy="2031.54" rx="3.7" ry="6" fill="#F0D6AA" />
<ellipse cx="1900.38" cy="2031.54" rx="4.2" ry="6.7" fill="#EFD4A9" />
<ellipse cx="1737.48" cy="2051.3" rx="3.7" ry="6" fill="#F0D6AA" />
<ellipse cx="1751.05" cy="2051.3" rx="4.2" ry="6.7" fill="#EFD4A9" />
<ellipse cx="1764.62" cy="2051.3" rx="4.2" ry="6.7" fill="#EFD4A9" />
<ellipse cx="1791.78" cy="2051.3" rx="4.2" ry="6.7" fill="#EFD4A9" />
<ellipse cx="1805.35" cy="2051.3" rx="4.2" ry="6.7" fill="#EFD4A9" />
<ellipse cx="1832.5" cy="2051.3" rx="4.8" ry="7.5" fill="#EDCFA7" />
<ellipse cx="1846.08" cy="2051.3" rx="4.2" ry="6.7" fill="#EFD4A9" />
<ellipse cx="1886.8" cy="2051.3" rx="4.8" ry="7.5" fill="#EDCFA7" />
<ellipse cx="1900.38" cy="2051.3" rx="5.7" ry="9.1" fill="#E6C3A0" />
<ellipse cx="1717.5" cy="2011.78" rx="3.6" ry="5.8" fill="#F0D6AA" />
<line x1="1709.05" y1="1270.4" x2="1709.05" y2="2066.4" stroke="#231F20" stroke-width="3"/>
<line x1="1707" y1="2064.9" x2="1925.9" y2="2064.9" stroke="#231F20" stroke-width="3.1"/>
<line x1="1723.1" y1="2065" x2="1723.1" y2="2075.8" stroke="#231F20" stroke-width="3"/>
<line x1="1792.1" y1="2065" x2="1792.1" y2="2075.8" stroke="#231F20" stroke-width="3"/>
<line x1="1859.5" y1="2065" x2="1859.5" y2="2075.8" stroke="#231F20" stroke-width="3"/>
<text transform="translate(1710.77,2079.3) rotate(90) scale(0.97,1)" font-size="35" fill="#111">0</text>
<text transform="translate(1781.07,2079.3) rotate(90) scale(0.97,1)" font-size="35" fill="#111">5</text>
<text transform="translate(1849.37,2077.9) rotate(90) scale(0.92,1)" font-size="35" fill="#111">10</text>
<defs><linearGradient id="cg" x1="0" y1="0" x2="0" y2="1"><stop offset="0" stop-color="#A95D62"/><stop offset="0.5" stop-color="#CE9886"/><stop offset="1" stop-color="#F0D5A8"/></linearGradient></defs>
<text transform="translate(1909,1385.8)" font-size="33" fill="#111" textLength="82.5" lengthAdjust="spacingAndGlyphs">count</text>
<rect x="1916.2" y="1392.8" width="33.5" height="294.7" fill="url(#cg)"/>
<line x1="1926.2" y1="1451.2" x2="1932.9" y2="1451.2" stroke="#fff" stroke-width="0.8"/>
<line x1="1943.2" y1="1451.2" x2="1949.7" y2="1451.2" stroke="#fff" stroke-width="0.8"/>
<text transform="translate(1951.3,1459.8)" font-size="24" fill="#111" textLength="43.5" lengthAdjust="spacingAndGlyphs">300</text>
<line x1="1926.2" y1="1529.4" x2="1932.9" y2="1529.4" stroke="#fff" stroke-width="0.8"/>
<line x1="1943.2" y1="1529.4" x2="1949.7" y2="1529.4" stroke="#fff" stroke-width="0.8"/>
<text transform="translate(1951.3,1538)" font-size="24" fill="#111" textLength="43.5" lengthAdjust="spacingAndGlyphs">200</text>
<line x1="1926.2" y1="1608" x2="1932.9" y2="1608" stroke="#fff" stroke-width="0.8"/>
<line x1="1943.2" y1="1608" x2="1949.7" y2="1608" stroke="#fff" stroke-width="0.8"/>
<text transform="translate(1951.3,1616.6)" font-size="24" fill="#111" textLength="43.5" lengthAdjust="spacingAndGlyphs">100</text>
<text transform="translate(1911,1721.2)" font-size="33" fill="#111" textLength="82.5" lengthAdjust="spacingAndGlyphs">count</text>
<circle cx="1931" cy="1745.7" r="5.9" fill="#0d0d0d" />
<text transform="translate(1951.3,1754.3)" font-size="24" fill="#111" textLength="43.5" lengthAdjust="spacingAndGlyphs">100</text>
<circle cx="1931" cy="1806.7" r="7.9" fill="#0d0d0d" />
<text transform="translate(1951.3,1815.3)" font-size="24" fill="#111" textLength="43.5" lengthAdjust="spacingAndGlyphs">200</text>
<circle cx="1931" cy="1864.3" r="12" fill="#0d0d0d" />
<text transform="translate(1951.3,1872.9)" font-size="24" fill="#111" textLength="43.5" lengthAdjust="spacingAndGlyphs">300</text>
<text transform="translate(1110.5,2180.1)" font-size="32.5" fill="#111" textLength="195" lengthAdjust="spacingAndGlyphs">No. of MAGs</text>
<text transform="translate(1344,2180.1)" font-size="32.5" fill="#111" textLength="149" lengthAdjust="spacingAndGlyphs">Group(%)</text>
<text transform="translate(1563.5,2180.3)" font-size="32.5" fill="#111" textLength="112" lengthAdjust="spacingAndGlyphs">Sex(%)</text>
<text transform="translate(1720,2180.3)" font-size="32.5" fill="#111" textLength="197" lengthAdjust="spacingAndGlyphs">Age(months)</text>
</g>
</svg>
</body></html>
